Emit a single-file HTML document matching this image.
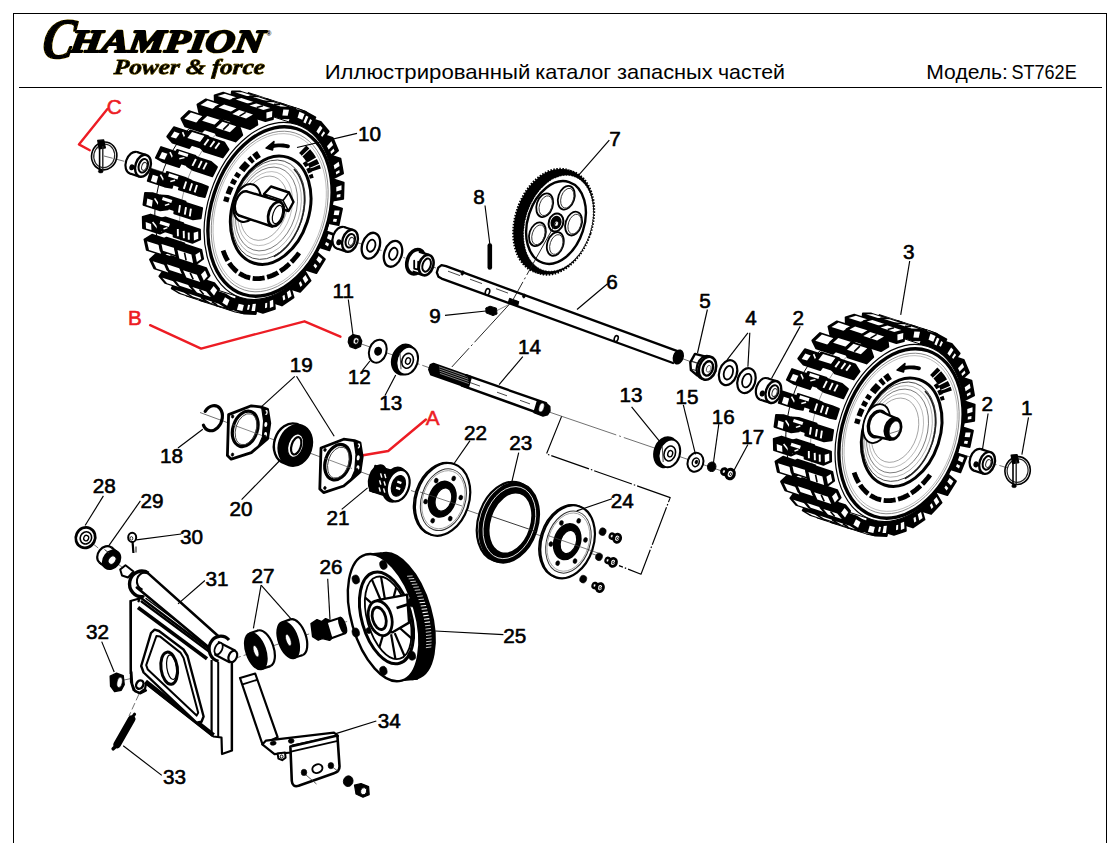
<!DOCTYPE html>
<html lang="ru"><head><meta charset="utf-8"><title>Иллюстрированный каталог запасных частей</title>
<style>
html,body{margin:0;padding:0;background:#fff;}
body{width:1114px;height:843px;overflow:hidden;font-family:"Liberation Sans",sans-serif;}
svg{display:block;}
</style></head><body>
<svg width="1114" height="843" viewBox="0 0 1114 843">
<line x1="104" y1="156" x2="150" y2="168" stroke="#333" stroke-width="0.7" stroke-dasharray="9 3"/>
<line x1="150" y1="168" x2="175" y2="176" stroke="#333" stroke-width="0.7" />
<line x1="332" y1="234.5" x2="436" y2="268" stroke="#333" stroke-width="0.7" stroke-dasharray="12 3 2 3"/>
<line x1="511" y1="302.5" x2="451.8" y2="367" stroke="#111" stroke-width="0.9" stroke-dasharray="54 3 2 3"/>
<line x1="497" y1="310.5" x2="509" y2="304.5" stroke="#555" stroke-width="0.7" />
<line x1="682" y1="358.5" x2="790" y2="398" stroke="#333" stroke-width="0.7" stroke-dasharray="12 3 2 3"/>
<line x1="962" y1="454.5" x2="1008" y2="468" stroke="#333" stroke-width="0.7" stroke-dasharray="10 3"/>
<line x1="360" y1="343.5" x2="430" y2="368" stroke="#333" stroke-width="0.7" stroke-dasharray="14 3 2 3"/>
<line x1="550" y1="412.3" x2="735" y2="475.5" stroke="#333" stroke-width="0.7" stroke-dasharray="70 3 2 3"/>
<path d="M561.6 416.4 L546.5 453.9 L670.2 497.6 L641 574.2 L619 565.6" fill="none" stroke="#000" stroke-width="1.15" stroke-linejoin="round" stroke-linecap="butt" stroke-dasharray="40 2 1.5 2"/>
<line x1="200" y1="412.5" x2="372" y2="476" stroke="#333" stroke-width="0.7" stroke-dasharray="60 3 2 3"/>
<line x1="411" y1="490.5" x2="600" y2="556.5" stroke="#333" stroke-width="0.7" stroke-dasharray="80 3 2 3"/>
<line x1="92" y1="543" x2="128" y2="572" stroke="#333" stroke-width="0.7" stroke-dasharray="8 3"/>
<line x1="124" y1="680" x2="160" y2="672.5" stroke="#333" stroke-width="0.7" stroke-dasharray="9 3"/>
<line x1="139" y1="694" x2="129" y2="716" stroke="#333" stroke-width="0.7" stroke-dasharray="7 3"/>
<line x1="236" y1="658" x2="350" y2="620.5" stroke="#333" stroke-width="0.7" stroke-dasharray="5 3"/>
<rect x="13.5" y="13.5" width="1093" height="900" fill="none" stroke="#000" stroke-width="1"/>
<line x1="19" y1="87.5" x2="1102" y2="87.5" stroke="#000" stroke-width="1"/>
<defs><filter id="halo" x="-5%" y="-20%" width="110%" height="140%"><feMorphology in="SourceAlpha" operator="dilate" radius="0.4" result="d"/><feFlood flood-color="#d9b400" flood-opacity="0.6"/><feComposite in2="d" operator="in" result="h"/><feMerge><feMergeNode in="h"/><feMergeNode in="SourceGraphic"/></feMerge></filter></defs>
<g font-family="'Liberation Serif', serif" font-weight="bold" font-style="italic" fill="#000" stroke="#000" stroke-linejoin="round" filter="url(#halo)">
<text transform="skewX(-8)"><tspan x="49.0" y="57.8" font-size="57" stroke-width="1.5" textLength="32" lengthAdjust="spacingAndGlyphs">C</tspan><tspan x="76.6" y="51.6" font-size="32" stroke-width="2.1" textLength="193.5" lengthAdjust="spacingAndGlyphs">HAMPION</tspan></text>
<text transform="skewX(-4)" x="118.7" y="74.3" font-size="21.5" stroke-width="0.8" textLength="151" lengthAdjust="spacingAndGlyphs">Power &amp; force</text>
</g>
<text x="266.5" y="35.5" font-family="'Liberation Sans', sans-serif" font-size="6.5" font-weight="bold">®</text>
<g font-family="'Liberation Sans', sans-serif" fill="#000" font-size="20.3">
<text><tspan x="324.7" y="79.3" textLength="205.7" lengthAdjust="spacingAndGlyphs">Иллюстрированный</tspan> <tspan x="535.2" y="79.3" textLength="76.0" lengthAdjust="spacingAndGlyphs">каталог</tspan> <tspan x="617.1" y="79.3" textLength="95.6" lengthAdjust="spacingAndGlyphs">запасных</tspan> <tspan x="718.0" y="79.3" textLength="67.0" lengthAdjust="spacingAndGlyphs">частей</tspan></text>
<text><tspan x="926.3" y="79.3" textLength="81.6" lengthAdjust="spacingAndGlyphs">Модель:</tspan> <tspan x="1011.5" y="79.3" textLength="65.2" lengthAdjust="spacingAndGlyphs">ST762E</tspan></text>
</g>
<g>
<path d="M191.1 281.5 L185.2 279 L179.7 275.7 L174.6 271.4 L170 266.3 L165.9 260.5 L162.4 253.9 L159.5 246.6 L157.3 238.8 L155.8 230.6 L155 221.9 L154.8 212.9 L155.4 203.8 L156.7 194.5 L158.6 185.2 L161.3 176.1 L164.5 167.1 L168.4 158.5 L172.8 150.3 L177.7 142.5 L183.1 135.3 L188.9 128.8 L195 123 L201.3 118 L207.9 113.8 L214.6 110.6 L221.3 108.2 L228.1 106.8 L234.7 106.4 L241.2 106.9 L247.4 108.4 L296.8 124.5 L302.7 126.9 L308.3 130.3 L313.4 134.5 L318 139.6 L322 145.5 L325.5 152.1 L328.4 159.3 L330.6 167.1 L332.1 175.4 L333 184 L333.1 193 L332.5 202.2 L331.3 211.4 L329.3 220.7 L326.7 229.8 L323.4 238.8 L319.6 247.4 L315.2 255.7 L310.2 263.4 L304.9 270.6 L299.1 277.1 L293 282.9 L286.6 287.9 L280 292.1 L273.3 295.4 L266.6 297.7 L259.9 299.1 L253.2 299.6 L246.8 299 L240.6 297.5Z" fill="#fff" stroke="#000" stroke-width="1" stroke-linejoin="round" />
<path d="M210.9 287.5 L205.3 284.3 L200.1 280.2 L195.4 275.3 L191.3 269.5 L187.7 263.1 L184.7 255.9 L182.4 248.2 L180.7 240 L179.8 231.4 L179.5 222.5 L180 213.3 L181.1 204.1 L183 194.8 L185.5 185.6 L188.7 176.7 L192.4 168 L196.7 159.6 L201.6 151.8 L206.9 144.5 L212.6 137.9 L218.7 132 L225 126.8 L231.5 122.5 L238.2 119.1 L245 116.6 L251.7 115 L258.3 114.4 L264.8 114.8" fill="none" stroke="#555" stroke-width="0.6" stroke-linejoin="round" stroke-linecap="round" />
<path d="M308.8 240.6 L314 227.4 L324.9 230.9 L335.7 234.7 L329.4 250.4 L318.5 246.9Z" fill="#000" stroke="#000" stroke-width="1.8" stroke-linejoin="round" />
<path d="M328.5 233.9 L333.1 235.7 L331.3 240.4 L326.9 238.3Z" fill="#fff" stroke="none" stroke-width="0" stroke-linejoin="round" />
<path d="M326.1 242 L329.1 243.7 L327.9 246.4 L325 244.6Z" fill="#fff" stroke="none" stroke-width="0" stroke-linejoin="round" />
<path d="M316.5 219.3 L319.4 205.5 L331.2 205.1 L342.1 208.6 L338.6 225.2 L327.4 222.9Z" fill="#000" stroke="#000" stroke-width="1.8" stroke-linejoin="round" />
<path d="M334.5 210.5 L339.6 210.4 L338.7 215.3 L333.7 215Z" fill="#fff" stroke="none" stroke-width="0" stroke-linejoin="round" />
<path d="M333.6 218.7 L337 219.1 L336.3 222 L332.9 221.4Z" fill="#fff" stroke="none" stroke-width="0" stroke-linejoin="round" />
<path d="M297.8 259.7 L305.1 248 L315.9 251.5 L324.9 259.2 L316.3 273.2 L305.4 269.7Z" fill="#000" stroke="#000" stroke-width="1.8" stroke-linejoin="round" />
<path d="M318.6 255.9 L322.4 259.3 L319.9 263.6 L316.3 259.8Z" fill="#fff" stroke="none" stroke-width="0" stroke-linejoin="round" />
<path d="M314.9 263.4 L317.3 266.1 L315.7 268.5 L313.4 265.7Z" fill="#fff" stroke="none" stroke-width="0" stroke-linejoin="round" />
<path d="M320.4 197.3 L320.8 183.7 L332.8 179.2 L343.7 182.7 L343.2 198.9 L331.3 200.9Z" fill="#000" stroke="#000" stroke-width="1.8" stroke-linejoin="round" />
<path d="M336.3 187.1 L341.5 185.2 L341.5 190 L336.3 191.5Z" fill="#fff" stroke="none" stroke-width="0" stroke-linejoin="round" />
<path d="M336.9 194.8 L340.5 194 L340.3 196.9 L336.7 197.6Z" fill="#fff" stroke="none" stroke-width="0" stroke-linejoin="round" />
<path d="M284.2 275.4 L293 266 L303.9 269.5 L310.6 280.7 L300.1 291.9 L289.2 288.4Z" fill="#000" stroke="#000" stroke-width="1.8" stroke-linejoin="round" />
<path d="M305.5 275 L308.3 279.9 L305.2 283.3 L302.6 278.2Z" fill="#fff" stroke="none" stroke-width="0" stroke-linejoin="round" />
<path d="M300.7 281.3 L302.4 285 L300.5 287 L298.9 283.1Z" fill="#fff" stroke="none" stroke-width="0" stroke-linejoin="round" />
<path d="M318.1 163.5 L329.6 155.1 L340.5 158.6 L343.1 173.5 L331.2 179.5 L320.3 176Z" fill="#000" stroke="#000" stroke-width="1.8" stroke-linejoin="round" />
<path d="M333.7 165.2 L338.7 161.7 L339.6 166 L334.6 169.2Z" fill="#fff" stroke="none" stroke-width="0" stroke-linejoin="round" />
<path d="M335.8 172 L339.3 170 L339.7 172.6 L336.2 174.6Z" fill="#fff" stroke="none" stroke-width="0" stroke-linejoin="round" />
<path d="M268.9 286.8 L278.7 280.2 L289.6 283.7 L293.6 297.6 L281.9 305.5 L271 301.9Z" fill="#000" stroke="#000" stroke-width="1.8" stroke-linejoin="round" />
<path d="M290 289.9 L291.6 295.9 L288.2 298.4 L286.8 292.2Z" fill="#fff" stroke="none" stroke-width="0" stroke-linejoin="round" />
<path d="M284.5 294.7 L285.3 299.2 L283.2 300.5 L282.5 296Z" fill="#fff" stroke="none" stroke-width="0" stroke-linejoin="round" />
<path d="M311.5 146.1 L321.8 134.4 L332.7 137.9 L338.1 150.5 L327 160.2 L316.1 156.7Z" fill="#000" stroke="#000" stroke-width="1.8" stroke-linejoin="round" />
<path d="M327 146.3 L331.4 141.3 L333.1 144.9 L328.6 149.6Z" fill="#fff" stroke="none" stroke-width="0" stroke-linejoin="round" />
<path d="M330.4 151.7 L333.6 148.6 L334.5 150.9 L331.2 153.9Z" fill="#fff" stroke="none" stroke-width="0" stroke-linejoin="round" />
<path d="M252 309.3 L252.9 293 L263 289.7 L273.9 293.2 L274.9 308.9 L262.9 312.9Z" fill="#000" stroke="#000" stroke-width="1.8" stroke-linejoin="round" />
<path d="M273.1 299.7 L273.4 306.5 L269.9 307.9 L269.8 301Z" fill="#fff" stroke="none" stroke-width="0" stroke-linejoin="round" />
<path d="M267.2 302.8 L267.1 307.6 L265 308.2 L265.2 303.3Z" fill="#fff" stroke="none" stroke-width="0" stroke-linejoin="round" />
<path d="M301.5 132.7 L309.8 118.4 L320.7 121.9 L328.7 131.4 L319.1 144.1 L308.2 140.6Z" fill="#000" stroke="#000" stroke-width="1.8" stroke-linejoin="round" />
<path d="M316.4 131.6 L320.1 125.5 L322.5 128.1 L318.7 134Z" fill="#fff" stroke="none" stroke-width="0" stroke-linejoin="round" />
<path d="M321 135.3 L323.7 131.3 L325.1 133.1 L322.2 137Z" fill="#fff" stroke="none" stroke-width="0" stroke-linejoin="round" />
<path d="M233.3 310.2 L237.2 293.7 L247 293.9 L257.9 297.4 L255.8 314 L244.2 313.7Z" fill="#000" stroke="#000" stroke-width="1.8" stroke-linejoin="round" />
<path d="M255.9 303.8 L255 310.9 L251.5 311.1 L252.7 304Z" fill="#fff" stroke="none" stroke-width="0" stroke-linejoin="round" />
<path d="M250 304.9 L249 309.8 L247 309.7 L248.1 304.7Z" fill="#fff" stroke="none" stroke-width="0" stroke-linejoin="round" />
<path d="M288.6 124.1 L294.5 108.1 L305.4 111.7 L315.4 117.4 L307.9 132.4 L297 128.9Z" fill="#000" stroke="#000" stroke-width="1.8" stroke-linejoin="round" />
<path d="M302.8 122 L305.4 115.2 L308.4 116.7 L305.6 123.4Z" fill="#fff" stroke="none" stroke-width="0" stroke-linejoin="round" />
<path d="M308.2 123.7 L310.2 119.1 L312 120.2 L309.8 124.8Z" fill="#fff" stroke="none" stroke-width="0" stroke-linejoin="round" />
<path d="M186.6 295.7 L189.8 285.2 L197 286.6 L213.8 292.1 L211.4 302.8 L203.4 301.2Z" fill="#000" stroke="#000" stroke-width="1.8" stroke-linejoin="round" />
<path d="M212.2 294.4 L210.8 300.5 L205.1 299.4 L206.9 293.3Z" fill="#fff" stroke="none" stroke-width="0" stroke-linejoin="round" />
<path d="M196.5 298.1 L208.4 301.9 L201.6 300.6 L189.7 296.7Z" fill="#fff" stroke="none" stroke-width="0" stroke-linejoin="round" />
<path d="M245.3 103.5 L248.5 93 L265.3 98.5 L273 101.3 L269 111.6 L252.2 106.1Z" fill="#000" stroke="#000" stroke-width="1.8" stroke-linejoin="round" />
<path d="M263.8 106.9 L265.7 100.9 L271.2 102.9 L269 108.8Z" fill="#fff" stroke="none" stroke-width="0" stroke-linejoin="round" />
<path d="M251.5 94 L263.4 97.8 L269.8 100.2 L258 96.4Z" fill="#fff" stroke="none" stroke-width="0" stroke-linejoin="round" />
<path d="M262.8 109.2 L266.3 98.8 L284.1 104.6 L290.3 107.2 L286.1 117.4 L268.3 111.6Z" fill="#000" stroke="#000" stroke-width="1.8" stroke-linejoin="round" />
<path d="M282.4 113 L284.4 107 L288.5 108.7 L286.1 114.6Z" fill="#fff" stroke="none" stroke-width="0" stroke-linejoin="round" />
<path d="M269.3 99.8 L282.2 103.9 L287.1 106.1 L274.3 101.9Z" fill="#fff" stroke="none" stroke-width="0" stroke-linejoin="round" />
<path d="M199.8 300.1 L203.2 289.6 L209.1 291.1 L226.9 296.9 L224.2 307.5 L217.7 305.9Z" fill="#000" stroke="#000" stroke-width="1.8" stroke-linejoin="round" />
<path d="M225.2 299.1 L223.6 305.2 L219.4 304.1 L221.3 298.1Z" fill="#fff" stroke="none" stroke-width="0" stroke-linejoin="round" />
<path d="M208.3 302.4 L221.1 306.6 L215.9 305.3 L203 301.1Z" fill="#fff" stroke="none" stroke-width="0" stroke-linejoin="round" />
<path d="M171.7 288.5 L176.5 278.7 L193.3 284.2 L199.7 288 L195.6 298.2 L178.8 292.8Z" fill="#000" stroke="#000" stroke-width="1.8" stroke-linejoin="round" />
<path d="M197.8 289.9 L195.4 295.7 L190.4 292.6 L193 287Z" fill="#fff" stroke="none" stroke-width="0" stroke-linejoin="round" />
<path d="M180.8 293.3 L192.6 297.2 L186.6 293.6 L174.8 289.7Z" fill="#fff" stroke="none" stroke-width="0" stroke-linejoin="round" />
<path d="M230.4 102.1 L231.9 91.4 L240.3 91.5 L257.1 97 L254.8 107.7 L247.3 107.5Z" fill="#000" stroke="#000" stroke-width="1.8" stroke-linejoin="round" />
<path d="M248.7 105.1 L249.6 98.9 L255.5 99 L254.3 105.1Z" fill="#fff" stroke="none" stroke-width="0" stroke-linejoin="round" />
<path d="M235 92.2 L246.8 96 L253.9 96.1 L242 92.2Z" fill="#fff" stroke="none" stroke-width="0" stroke-linejoin="round" />
<path d="M216.4 305.4 L219.7 295 L226.7 296.5 L245.5 302.6 L242.9 313.2 L235.2 311.6Z" fill="#000" stroke="#000" stroke-width="1.8" stroke-linejoin="round" />
<path d="M243.9 304.9 L242.4 311 L236.9 309.8 L238.7 303.7Z" fill="#fff" stroke="none" stroke-width="0" stroke-linejoin="round" />
<path d="M226.1 307.9 L239.9 312.4 L233.4 311 L219.6 306.5Z" fill="#fff" stroke="none" stroke-width="0" stroke-linejoin="round" />
<path d="M232.7 310.1 L226.8 308.8" fill="none" stroke="#000" stroke-width="1.6" stroke-linejoin="round" stroke-linecap="butt" />
<path d="M276.9 113.8 L280.2 103.3 L299 109.4 L306.4 112.3 L302.3 122.5 L283.6 116.4Z" fill="#000" stroke="#000" stroke-width="1.8" stroke-linejoin="round" />
<path d="M297.5 117.8 L299.4 111.8 L304.6 113.9 L302.3 119.8Z" fill="#fff" stroke="none" stroke-width="0" stroke-linejoin="round" />
<path d="M283.2 104.3 L297.1 108.8 L303.3 111.2 L289.4 106.7Z" fill="#fff" stroke="none" stroke-width="0" stroke-linejoin="round" />
<path d="M290.5 106.6 L296 108.8" fill="none" stroke="#000" stroke-width="1.6" stroke-linejoin="round" stroke-linecap="butt" />
<path d="M248.2 106.8 L250 96.1 L256.8 96.5 L274.6 102.3 L272.1 113 L266 112.6Z" fill="#000" stroke="#000" stroke-width="1.8" stroke-linejoin="round" />
<path d="M267.4 110.2 L268.5 104 L273 104.3 L271.6 110.4Z" fill="#fff" stroke="none" stroke-width="0" stroke-linejoin="round" />
<path d="M253 96.9 L265.9 101.1 L271.3 101.4 L258.5 97.2Z" fill="#fff" stroke="none" stroke-width="0" stroke-linejoin="round" />
<path d="M185.2 292.3 L190.1 282.7 L207.9 288.5 L213 291.8 L208.7 301.9 L190.9 296.1Z" fill="#000" stroke="#000" stroke-width="1.8" stroke-linejoin="round" />
<path d="M211.1 293.6 L208.6 299.3 L204.9 296.9 L207.6 291.3Z" fill="#fff" stroke="none" stroke-width="0" stroke-linejoin="round" />
<path d="M192.9 296.6 L205.7 300.8 L201.1 297.8 L188.3 293.6Z" fill="#fff" stroke="none" stroke-width="0" stroke-linejoin="round" />
<path d="M159.3 276.2 L165.3 267.7 L182.2 273.2 L187.4 279.2 L181.9 288.4 L165.1 282.9Z" fill="#000" stroke="#000" stroke-width="1.8" stroke-linejoin="round" />
<path d="M185.4 280.5 L182.2 285.7 L178 280.9 L181.5 276Z" fill="#fff" stroke="none" stroke-width="0" stroke-linejoin="round" />
<path d="M167.1 283.3 L179 287.1 L174.1 281.5 L162.3 277.7Z" fill="#fff" stroke="none" stroke-width="0" stroke-linejoin="round" />
<path d="M214.6 95.3 L223.2 92.7 L240 98.1 L239.5 108.7 L231.7 111 L214.9 105.6Z" fill="#000" stroke="#000" stroke-width="1.8" stroke-linejoin="round" />
<path d="M232.7 108.3 L232.6 102.4 L238.8 100.5 L238.5 106.5Z" fill="#fff" stroke="none" stroke-width="0" stroke-linejoin="round" />
<path d="M217.6 95.9 L229.5 99.7 L236.8 97.5 L224.9 93.7Z" fill="#fff" stroke="none" stroke-width="0" stroke-linejoin="round" />
<path d="M201.6 297.9 L206.5 288.2 L225.3 294.3 L231.4 298.2 L227.2 308.3 L208.4 302.2Z" fill="#000" stroke="#000" stroke-width="1.8" stroke-linejoin="round" />
<path d="M229.5 300 L227.1 305.8 L222.3 302.8 L225 297.2Z" fill="#fff" stroke="none" stroke-width="0" stroke-linejoin="round" />
<path d="M210.4 302.7 L224.3 307.2 L218.6 303.7 L204.7 299.2Z" fill="#fff" stroke="none" stroke-width="0" stroke-linejoin="round" />
<path d="M217.1 304.9 L211.9 301.7" fill="none" stroke="#000" stroke-width="1.6" stroke-linejoin="round" stroke-linecap="butt" />
<path d="M262.1 112 L263.7 101.3 L271.8 101.6 L290.6 107.7 L288.2 118.3 L280.9 118.1Z" fill="#000" stroke="#000" stroke-width="1.8" stroke-linejoin="round" />
<path d="M282.4 115.6 L283.3 109.5 L289 109.7 L287.7 115.8Z" fill="#fff" stroke="none" stroke-width="0" stroke-linejoin="round" />
<path d="M266.8 102.1 L280.6 106.6 L287.4 106.8 L273.6 102.3Z" fill="#fff" stroke="none" stroke-width="0" stroke-linejoin="round" />
<path d="M274 104.3 L280.1 104.5" fill="none" stroke="#000" stroke-width="1.6" stroke-linejoin="round" stroke-linecap="butt" />
<path d="M232.7 109.4 L232.7 99 L239.8 97.1 L257.6 102.9 L256.8 113.5 L250.5 115.2Z" fill="#000" stroke="#000" stroke-width="1.8" stroke-linejoin="round" />
<path d="M251.6 112.4 L251.6 106.5 L256.3 105.3 L255.9 111.3Z" fill="#fff" stroke="none" stroke-width="0" stroke-linejoin="round" />
<path d="M235.8 99.6 L248.6 103.8 L254.3 102.3 L241.4 98.1Z" fill="#fff" stroke="none" stroke-width="0" stroke-linejoin="round" />
<path d="M150 259.5 L157.1 252.8 L173.9 258.2 L177.6 266.1 L171 273.8 L154.2 268.3Z" fill="#000" stroke="#000" stroke-width="1.8" stroke-linejoin="round" />
<path d="M175.5 266.8 L171.7 271.1 L168.7 264.9 L172.7 260.9Z" fill="#fff" stroke="none" stroke-width="0" stroke-linejoin="round" />
<path d="M156.4 268.5 L168.2 272.4 L164.7 265 L152.8 261.2Z" fill="#fff" stroke="none" stroke-width="0" stroke-linejoin="round" />
<path d="M173.1 279.6 L179.2 271.2 L197.1 277 L201.1 282.2 L195.4 291.1 L177.6 285.3Z" fill="#000" stroke="#000" stroke-width="1.8" stroke-linejoin="round" />
<path d="M199.1 283.4 L195.8 288.4 L192.8 284.7 L196.3 279.9Z" fill="#fff" stroke="none" stroke-width="0" stroke-linejoin="round" />
<path d="M179.7 285.7 L192.6 289.9 L188.9 285.2 L176 281.1Z" fill="#fff" stroke="none" stroke-width="0" stroke-linejoin="round" />
<path d="M197.4 104.5 L205.8 99.3 L222.7 104.7 L223.9 114.6 L216.3 119.3 L199.5 113.8Z" fill="#000" stroke="#000" stroke-width="1.8" stroke-linejoin="round" />
<path d="M200.5 104.9 L212.3 108.8 L219.4 104.4 L207.5 100.5Z" fill="#fff" stroke="none" stroke-width="0" stroke-linejoin="round" />
<path d="M144.4 239.4 L152 234.7 L168.8 240.2 L170.9 249.5 L163.5 255.2 L146.7 249.8Z" fill="#000" stroke="#000" stroke-width="1.8" stroke-linejoin="round" />
<path d="M168.9 249.5 L164.6 252.7 L163 245.3 L167.3 242.6Z" fill="#fff" stroke="none" stroke-width="0" stroke-linejoin="round" />
<path d="M149 249.9 L160.9 253.7 L158.9 245 L147 241.2Z" fill="#fff" stroke="none" stroke-width="0" stroke-linejoin="round" />
<path d="M189.4 285.4 L195.5 277 L214.3 283.1 L219.2 289 L213.7 298.1 L194.9 292Z" fill="#000" stroke="#000" stroke-width="1.8" stroke-linejoin="round" />
<path d="M217.2 290.3 L214 295.5 L210.1 290.8 L213.6 285.9Z" fill="#fff" stroke="none" stroke-width="0" stroke-linejoin="round" />
<path d="M197 292.4 L210.8 296.9 L206.2 291.4 L192.3 286.9Z" fill="#fff" stroke="none" stroke-width="0" stroke-linejoin="round" />
<path d="M203.7 294.4 L199.5 289.4" fill="none" stroke="#000" stroke-width="1.6" stroke-linejoin="round" stroke-linecap="butt" />
<path d="M215.4 107.2 L222.4 103.2 L240.2 109 L241.2 119 L235 122.5 L217.2 116.8Z" fill="#000" stroke="#000" stroke-width="1.8" stroke-linejoin="round" />
<path d="M235.7 119.7 L234.7 114.2 L239.2 111.6 L239.9 117.3Z" fill="#fff" stroke="none" stroke-width="0" stroke-linejoin="round" />
<path d="M218.5 107.6 L231.3 111.8 L236.9 108.6 L224.1 104.4Z" fill="#fff" stroke="none" stroke-width="0" stroke-linejoin="round" />
<path d="M246.4 104.8 L254.8 102.4 L273.6 108.5 L272.9 119.1 L265.4 121.2 L246.6 115.2Z" fill="#000" stroke="#000" stroke-width="1.8" stroke-linejoin="round" />
<path d="M266.5 118.5 L266.4 112.6 L272.3 110.9 L272 117Z" fill="#fff" stroke="none" stroke-width="0" stroke-linejoin="round" />
<path d="M249.5 105.4 L263.3 109.9 L270.3 107.9 L256.5 103.4Z" fill="#fff" stroke="none" stroke-width="0" stroke-linejoin="round" />
<path d="M256.7 107.5 L263 105.7" fill="none" stroke="#000" stroke-width="1.6" stroke-linejoin="round" stroke-linecap="butt" />
<path d="M164.1 262.5 L171.2 256 L189.1 261.8 L191.9 268.4 L185.2 275.7 L167.3 269.9Z" fill="#000" stroke="#000" stroke-width="1.8" stroke-linejoin="round" />
<path d="M189.9 268.9 L185.9 273.1 L183.8 268.2 L187.9 264.4Z" fill="#fff" stroke="none" stroke-width="0" stroke-linejoin="round" />
<path d="M169.5 270.1 L182.4 274.3 L179.8 268.4 L166.9 264.2Z" fill="#fff" stroke="none" stroke-width="0" stroke-linejoin="round" />
<path d="M181.3 118.5 L189.1 111 L205.9 116.5 L208.9 125.1 L201.9 131.9 L185.1 126.4Z" fill="#000" stroke="#000" stroke-width="1.8" stroke-linejoin="round" />
<path d="M184.3 118.8 L196.2 122.6 L202.7 116.3 L190.9 112.4Z" fill="#fff" stroke="none" stroke-width="0" stroke-linejoin="round" />
<path d="M142.7 216.8 L150.5 214.5 L167.3 220 L167.6 230.2 L159.9 233.7 L143 228.2Z" fill="#000" stroke="#000" stroke-width="1.8" stroke-linejoin="round" />
<path d="M165.8 229.6 L161.3 231.5 L161.1 223.4 L165.5 221.9Z" fill="#fff" stroke="none" stroke-width="0" stroke-linejoin="round" />
<path d="M146 228.4 L151.4 230.1 L151.1 223.9 L145.7 222.1Z" fill="#fff" stroke="none" stroke-width="0" stroke-linejoin="round" />
<path d="M152.6 222.1 L157.6 228.3" fill="none" stroke="#fff" stroke-width="1.6" stroke-linejoin="round" stroke-linecap="butt" />
<path d="M167.2 136.6 L173.9 127.2 L190.7 132.7 L195.3 139.6 L189.3 148.1 L172.5 142.6Z" fill="#000" stroke="#000" stroke-width="1.8" stroke-linejoin="round" />
<path d="M170.7 136.9 L176.1 138.6 L179.7 133.4 L174.3 131.6Z" fill="#fff" stroke="none" stroke-width="0" stroke-linejoin="round" />
<path d="M182.6 132.1 L184.8 137.3" fill="none" stroke="#fff" stroke-width="1.6" stroke-linejoin="round" stroke-linecap="butt" />
<path d="M199.1 120.4 L205.5 114.5 L223.3 120.2 L226.2 129.1 L220.3 134.3 L202.6 128.6Z" fill="#000" stroke="#000" stroke-width="1.8" stroke-linejoin="round" />
<path d="M202.1 120.7 L214.9 124.8 L220.1 120.1 L207.3 115.9Z" fill="#fff" stroke="none" stroke-width="0" stroke-linejoin="round" />
<path d="M158.9 242.1 L166.5 237.6 L184.3 243.4 L185.8 251.2 L178.4 256.5 L160.6 250.7Z" fill="#000" stroke="#000" stroke-width="1.8" stroke-linejoin="round" />
<path d="M183.8 251.1 L179.5 254.1 L178.5 248.4 L182.8 245.8Z" fill="#fff" stroke="none" stroke-width="0" stroke-linejoin="round" />
<path d="M162.9 250.8 L175.7 255 L174.4 248 L161.5 243.9Z" fill="#fff" stroke="none" stroke-width="0" stroke-linejoin="round" />
<path d="M180.3 268.5 L187.4 261.9 L206.2 268 L209.7 275.7 L203 283.2 L184.2 277.1Z" fill="#000" stroke="#000" stroke-width="1.8" stroke-linejoin="round" />
<path d="M207.6 276.3 L203.8 280.6 L201 274.5 L205 270.6Z" fill="#fff" stroke="none" stroke-width="0" stroke-linejoin="round" />
<path d="M186.4 277.4 L200.2 281.9 L196.9 274.7 L183.1 270.2Z" fill="#fff" stroke="none" stroke-width="0" stroke-linejoin="round" />
<path d="M193.2 279.3 L190.2 272.8" fill="none" stroke="#000" stroke-width="1.6" stroke-linejoin="round" stroke-linecap="butt" />
<path d="M143.4 204.9 L145 193 L152.6 193.2 L169.4 198.7 L167.9 209.3 L160.2 210.4Z" fill="#000" stroke="#000" stroke-width="1.8" stroke-linejoin="round" />
<path d="M146.4 205 L151.9 206.7 L152.7 200.3 L147.3 198.5Z" fill="#fff" stroke="none" stroke-width="0" stroke-linejoin="round" />
<path d="M154.6 198.4 L158.8 204.7" fill="none" stroke="#fff" stroke-width="1.6" stroke-linejoin="round" stroke-linecap="butt" />
<path d="M229.2 113.7 L237.4 108.8 L256.2 114.9 L257.4 124.8 L250 129.2 L231.2 123.1Z" fill="#000" stroke="#000" stroke-width="1.8" stroke-linejoin="round" />
<path d="M232.3 114.1 L246.1 118.6 L253 114.5 L239.1 110Z" fill="#fff" stroke="none" stroke-width="0" stroke-linejoin="round" />
<path d="M239.5 116.1 L245.7 112.4" fill="none" stroke="#000" stroke-width="1.6" stroke-linejoin="round" stroke-linecap="butt" />
<path d="M155.8 157.8 L161.1 147 L177.9 152.5 L183.8 157.4 L179.1 167.1 L162.2 161.6Z" fill="#000" stroke="#000" stroke-width="1.8" stroke-linejoin="round" />
<path d="M159.1 158 L164.6 159.7 L167.4 153.8 L162 152Z" fill="#fff" stroke="none" stroke-width="0" stroke-linejoin="round" />
<path d="M170 152.1 L172.8 158" fill="none" stroke="#fff" stroke-width="1.6" stroke-linejoin="round" stroke-linecap="butt" />
<path d="M147.7 181 L151.3 169.3 L168.1 174.8 L175 177.4 L171.8 187.9 L164.5 186.5Z" fill="#000" stroke="#000" stroke-width="1.8" stroke-linejoin="round" />
<path d="M150.9 181.1 L156.4 182.9 L158.2 176.5 L152.8 174.7Z" fill="#fff" stroke="none" stroke-width="0" stroke-linejoin="round" />
<path d="M160.5 174.7 L164 180.9" fill="none" stroke="#fff" stroke-width="1.6" stroke-linejoin="round" stroke-linecap="butt" />
<path d="M184.5 137.8 L190.2 130.3 L208 136 L212.4 143.2 L207.3 149.9 L189.5 144.2Z" fill="#000" stroke="#000" stroke-width="1.8" stroke-linejoin="round" />
<path d="M187.4 137.9 L200.3 142.1 L204.8 136 L192 131.9Z" fill="#fff" stroke="none" stroke-width="0" stroke-linejoin="round" />
<path d="M157.6 219.3 L165.4 217.3 L183.2 223 L183.2 231.5 L175.4 234.6 L157.6 228.8Z" fill="#000" stroke="#000" stroke-width="1.8" stroke-linejoin="round" />
<path d="M160 222.3 L169.4 225.3" fill="none" stroke="#fff" stroke-width="3.4" stroke-linejoin="round" stroke-linecap="butt" />
<path d="M163.5 229 L167.4 227.7" fill="none" stroke="#fff" stroke-width="1.4" stroke-linejoin="round" stroke-linecap="butt" />
<path d="M174.9 248.2 L182.5 243.7 L201.3 249.8 L203.2 258.9 L195.8 264.4 L177 258.4Z" fill="#000" stroke="#000" stroke-width="1.8" stroke-linejoin="round" />
<path d="M201.2 258.9 L196.9 262 L195.4 254.8 L199.8 252.1Z" fill="#fff" stroke="none" stroke-width="0" stroke-linejoin="round" />
<path d="M179.3 258.5 L193.1 263 L191.4 254.5 L177.5 250Z" fill="#fff" stroke="none" stroke-width="0" stroke-linejoin="round" />
<path d="M186.1 260.3 L184.5 252.7" fill="none" stroke="#000" stroke-width="1.6" stroke-linejoin="round" stroke-linecap="butt" />
<path d="M213 127.4 L220.6 120.2 L239.4 126.3 L242.3 135.1 L235.5 141.5 L216.7 135.4Z" fill="#000" stroke="#000" stroke-width="1.8" stroke-linejoin="round" />
<path d="M216 127.7 L229.9 132.2 L236.2 126.2 L222.4 121.7Z" fill="#fff" stroke="none" stroke-width="0" stroke-linejoin="round" />
<path d="M223.2 129.6 L228.9 124.2" fill="none" stroke="#000" stroke-width="1.6" stroke-linejoin="round" stroke-linecap="butt" />
<path d="M172.5 158.5 L177.1 149.8 L194.8 155.5 L200.6 160.7 L196.6 168.5 L178.8 162.7Z" fill="#000" stroke="#000" stroke-width="1.8" stroke-linejoin="round" />
<path d="M178.5 152.5 L187.9 155.5" fill="none" stroke="#fff" stroke-width="3.4" stroke-linejoin="round" stroke-linecap="butt" />
<path d="M179.3 158.8 L184.5 157.6" fill="none" stroke="#fff" stroke-width="1.4" stroke-linejoin="round" stroke-linecap="butt" />
<path d="M158.7 205.2 L160.3 195.5 L167.8 195.9 L185.6 201.7 L184.2 210.4 L176.5 211Z" fill="#000" stroke="#000" stroke-width="1.8" stroke-linejoin="round" />
<path d="M162.4 198.5 L171.8 201.5" fill="none" stroke="#fff" stroke-width="3.4" stroke-linejoin="round" stroke-linecap="butt" />
<path d="M164.9 205.4 L169.3 204" fill="none" stroke="#fff" stroke-width="1.4" stroke-linejoin="round" stroke-linecap="butt" />
<path d="M163.8 181.4 L166.9 171.9 L184.7 177.7 L191.5 180.5 L188.7 189 L181.6 187.2Z" fill="#000" stroke="#000" stroke-width="1.8" stroke-linejoin="round" />
<path d="M168.6 174.8 L178 177.8" fill="none" stroke="#fff" stroke-width="3.4" stroke-linejoin="round" stroke-linecap="butt" />
<path d="M170.3 181.5 L175.1 180.2" fill="none" stroke="#fff" stroke-width="1.4" stroke-linejoin="round" stroke-linecap="butt" />
<path d="M173.4 225.5 L181.2 223.3 L200 229.5 L200.2 239.4 L192.4 242.8 L173.6 236.7Z" fill="#000" stroke="#000" stroke-width="1.8" stroke-linejoin="round" />
<path d="M198.3 238.8 L193.9 240.6 L193.7 232.8 L198.2 231.4Z" fill="#fff" stroke="none" stroke-width="0" stroke-linejoin="round" />
<path d="M177.9 236.2 L177.8 228.9" fill="none" stroke="#fff" stroke-width="1.9" stroke-linejoin="round" stroke-linecap="butt" />
<path d="M183.9 238.2 L183.7 230.9" fill="none" stroke="#fff" stroke-width="1.9" stroke-linejoin="round" stroke-linecap="butt" />
<path d="M188.8 239.8 L188.7 232.5" fill="none" stroke="#fff" stroke-width="1.9" stroke-linejoin="round" stroke-linecap="butt" />
<path d="M198.8 145.3 L205.3 136.2 L224.1 142.3 L228.6 149.4 L222.7 157.5 L203.9 151.4Z" fill="#000" stroke="#000" stroke-width="1.8" stroke-linejoin="round" />
<path d="M204.3 145.1 L208.6 139.2" fill="none" stroke="#fff" stroke-width="1.9" stroke-linejoin="round" stroke-linecap="butt" />
<path d="M210.2 147 L214.5 141.1" fill="none" stroke="#fff" stroke-width="1.9" stroke-linejoin="round" stroke-linecap="butt" />
<path d="M215.2 148.6 L219.5 142.7" fill="none" stroke="#fff" stroke-width="1.9" stroke-linejoin="round" stroke-linecap="butt" />
<path d="M174.2 213.3 L175.9 201.7 L183.5 202 L202.2 208.1 L200.7 218.4 L193 219.4Z" fill="#000" stroke="#000" stroke-width="1.8" stroke-linejoin="round" />
<path d="M178.9 212.7 L180 205.2" fill="none" stroke="#fff" stroke-width="1.9" stroke-linejoin="round" stroke-linecap="butt" />
<path d="M184.8 214.7 L186 207.1" fill="none" stroke="#fff" stroke-width="1.9" stroke-linejoin="round" stroke-linecap="butt" />
<path d="M189.8 216.3 L190.9 208.7" fill="none" stroke="#fff" stroke-width="1.9" stroke-linejoin="round" stroke-linecap="butt" />
<path d="M187.1 166.3 L192.3 155.8 L211.1 161.9 L217 167 L212.3 176.4 L193.5 170.2Z" fill="#000" stroke="#000" stroke-width="1.8" stroke-linejoin="round" />
<path d="M192.4 165.9 L195.9 159" fill="none" stroke="#fff" stroke-width="1.9" stroke-linejoin="round" stroke-linecap="butt" />
<path d="M198.4 167.8 L201.8 161" fill="none" stroke="#fff" stroke-width="1.9" stroke-linejoin="round" stroke-linecap="butt" />
<path d="M203.3 169.4 L206.7 162.6" fill="none" stroke="#fff" stroke-width="1.9" stroke-linejoin="round" stroke-linecap="butt" />
<path d="M178.8 189.4 L182.4 178.1 L201.2 184.2 L208 186.9 L204.8 197 L197.6 195.5Z" fill="#000" stroke="#000" stroke-width="1.8" stroke-linejoin="round" />
<path d="M183.8 188.9 L186.2 181.5" fill="none" stroke="#fff" stroke-width="1.9" stroke-linejoin="round" stroke-linecap="butt" />
<path d="M189.7 190.8 L192.1 183.4" fill="none" stroke="#fff" stroke-width="1.9" stroke-linejoin="round" stroke-linecap="butt" />
<path d="M194.7 192.4 L197 185" fill="none" stroke="#fff" stroke-width="1.9" stroke-linejoin="round" stroke-linecap="butt" />
<ellipse cx="268.7" cy="211" rx="61" ry="91" fill="#fff" stroke="#000" stroke-width="1.2" transform="rotate(18 268.7 211)" />
<ellipse cx="270" cy="211.5" rx="58.7" ry="87" fill="#fff" stroke="#000" stroke-width="3.4" transform="rotate(18 270 211.5)" />
<ellipse cx="269.7" cy="211.5" rx="55.3" ry="82.5" fill="none" stroke="#666" stroke-width="0.7" transform="rotate(18 269.7 211.5)" />
<ellipse cx="269.7" cy="211.5" rx="53.6" ry="80" fill="none" stroke="#999" stroke-width="0.6" transform="rotate(18 269.7 211.5)" />
<path d="M299.1 252.9 L297 255.7 L294.8 258.3 L292.6 260.8 L290.3 263.1 L287.9 265.3 L285.5 267.4 L283 269.3 L280.5 271 L278 272.6 L275.4 274 L272.8 275.2 L270.2 276.2 L267.6 277.1 L265 277.8 L262.4 278.2 L259.9 278.5 L257.3 278.6 L254.8 278.6 L252.3 278.3 L249.9 277.8 L247.5 277.2 L245.2 276.4 L243 275.4 L240.8 274.2 L238.7 272.8 L236.7 271.3 L234.7 269.6 L232.9 267.7 L231.2 265.7 L229.5 263.5 L228 261.1 L226.6 258.7 L225.3 256.1 L224.1 253.3 L223.1 250.5" fill="none" stroke="#000" stroke-width="4.8" stroke-linejoin="round" stroke-linecap="butt" stroke-dasharray="12 2.5"/>
<path d="M270.3 146.7 L272.9 146 L275.5 145.6 L278.1 145.4 L280.6 145.3 L283.1 145.5 L285.6 145.8 L288 146.4" fill="none" stroke="#000" stroke-width="3.8" stroke-linejoin="round" stroke-linecap="round" />
<path d="M273.9 141.6 L266.1 148.1 L272.5 149.9Z" fill="#000" stroke="#000" stroke-width="1.6" stroke-linejoin="round" />
<path d="M302.7 149.3 L304.8 151.3 L306.8 153.4 L308.7 155.8 L310.4 158.3 L312 161 L313.5 163.9 L314.8 166.9 L315.9 170.1" fill="none" stroke="#000" stroke-width="10.5" stroke-linejoin="round" stroke-linecap="butt" stroke-dasharray="4 1 9 1.5 5 1"/>
<path d="M304.4 162.1 L305.9 164.4 L307.4 166.9 L308.7 169.5 L309.8 172.3 L310.9 175.2 L311.8 178.2" fill="none" stroke="#000" stroke-width="4.0" stroke-linejoin="round" stroke-linecap="butt" stroke-dasharray="5 2"/>
<path d="M241.6 170.1 L243.5 167.6 L245.6 165.3 L247.7 163 L249.9 161 L252.1 159 L254.4 157.2 L256.7 155.5 L259 154" fill="none" stroke="#000" stroke-width="7.0" stroke-linejoin="round" stroke-linecap="butt" stroke-dasharray="9 3 4 2 6 3"/>
<path d="M225.7 201.8 L226.7 198.4 L227.8 195 L229 191.7 L230.4 188.4 L231.9 185.2 L233.4 182.1 L235.1 179.1 L236.9 176.1 L238.8 173.3" fill="none" stroke="#000" stroke-width="5.4" stroke-linejoin="round" stroke-linecap="butt" stroke-dasharray="5 3 8 3"/>
<ellipse cx="270.7" cy="210.2" rx="38.3" ry="55.5" fill="#fff" stroke="#000" stroke-width="3" transform="rotate(18 270.7 210.2)" />
<ellipse cx="268.5" cy="209.7" rx="34.9" ry="51" fill="none" stroke="#333" stroke-width="0.8" transform="rotate(18 268.5 209.7)" />
<ellipse cx="267.5" cy="209.4" rx="32.2" ry="47" fill="none" stroke="#888" stroke-width="0.6" transform="rotate(18 267.5 209.4)" />
<ellipse cx="266.5" cy="209" rx="29.5" ry="43" fill="none" stroke="#555" stroke-width="0.7" transform="rotate(18 266.5 209)" />
<ellipse cx="265.2" cy="208.6" rx="26" ry="38" fill="none" stroke="#999" stroke-width="0.6" transform="rotate(18 265.2 208.6)" />
<ellipse cx="264" cy="208.2" rx="22.6" ry="33" fill="none" stroke="#777" stroke-width="0.6" transform="rotate(18 264 208.2)" />
<path d="M294.4 169.4 L296.4 171.9 L298.3 174.6 L299.9 177.7 L301.3 180.9 L302.5 184.4 L303.4 188.1 L304 192 L304.4 196 L304.5 200.2 L304.3 204.4 L303.8 208.7 L303.1 213 L302.1 217.2 L300.9 221.5 L299.4 225.6 L297.7 229.6 L295.7 233.5 L293.6 237.3 L291.3 240.8 L288.8 244.1 L286.1 247.1 L283.3 249.9 L280.4 252.4 L277.4 254.5 L274.4 256.3" fill="none" stroke="#222" stroke-width="1.6" stroke-linejoin="round" stroke-linecap="round" />
<ellipse cx="247" cy="203" rx="13" ry="19.5" fill="#fff" stroke="#000" stroke-width="2.2" transform="rotate(18 247 203)" />
<path d="M264 194 L271 186.5 L289 192.5 L293.5 202 L288.5 211 L276 207.5Z" fill="#fff" stroke="#000" stroke-width="2.4" stroke-linejoin="round" />
<path d="M264 194 L283 200.5 L289 192.5" fill="none" stroke="#000" stroke-width="1.6" stroke-linejoin="round" stroke-linecap="round" />
<path d="M283 200.5 L288.5 211" fill="none" stroke="#000" stroke-width="1.6" stroke-linejoin="round" stroke-linecap="round" />
<path d="M246 191.5 L280 201 L272 226.5 L239 215.5Z" fill="#fff" stroke="none" stroke-width="0" stroke-linejoin="round" />
<ellipse cx="243" cy="203.5" rx="7.6" ry="12.6" fill="#fff" stroke="#000" stroke-width="2.4" transform="rotate(18 243 203.5)" />
<path d="M246.5 191.5 L280 201.5 L272 226 L239 215.5Z" fill="#fff" stroke="none" stroke-width="0" stroke-linejoin="round" />
<path d="M246.5 191.3 L280.5 201.5" fill="none" stroke="#000" stroke-width="2.4" stroke-linejoin="round" stroke-linecap="round" />
<path d="M239 215.5 L272 226.5" fill="none" stroke="#000" stroke-width="2.4" stroke-linejoin="round" stroke-linecap="round" />
<ellipse cx="276" cy="214" rx="7.3" ry="12.6" fill="#fff" stroke="#000" stroke-width="2.8" transform="rotate(18 276 214)" />
<ellipse cx="277.5" cy="214.5" rx="4.5" ry="9.5" fill="#fff" stroke="#000" stroke-width="1.2" transform="rotate(18 277.5 214.5)" />
</g>
<g>
<path d="M822.1 503.5 L816.2 501 L810.7 497.7 L805.6 493.4 L801 488.3 L796.9 482.5 L793.4 475.9 L790.5 468.6 L788.3 460.8 L786.8 452.6 L786 443.9 L785.8 434.9 L786.4 425.8 L787.7 416.5 L789.6 407.2 L792.3 398.1 L795.5 389.1 L799.4 380.5 L803.8 372.3 L808.7 364.5 L814.1 357.3 L819.9 350.8 L826 345 L832.3 340 L838.9 335.8 L845.6 332.6 L852.3 330.2 L859.1 328.8 L865.7 328.4 L872.2 328.9 L878.4 330.4 L927.8 346.5 L933.7 348.9 L939.3 352.3 L944.4 356.5 L949 361.6 L953 367.5 L956.5 374.1 L959.4 381.3 L961.6 389.1 L963.1 397.4 L964 406 L964.1 415 L963.5 424.2 L962.3 433.4 L960.3 442.7 L957.7 451.8 L954.4 460.8 L950.6 469.4 L946.2 477.7 L941.2 485.4 L935.9 492.6 L930.1 499.1 L924 504.9 L917.6 509.9 L911 514.1 L904.3 517.4 L897.6 519.7 L890.9 521.1 L884.2 521.6 L877.8 521 L871.6 519.5Z" fill="#fff" stroke="#000" stroke-width="1" stroke-linejoin="round" />
<path d="M841.9 509.5 L836.3 506.3 L831.1 502.2 L826.4 497.3 L822.3 491.5 L818.7 485.1 L815.7 477.9 L813.4 470.2 L811.7 462 L810.8 453.4 L810.5 444.5 L811 435.3 L812.1 426.1 L814 416.8 L816.5 407.6 L819.7 398.7 L823.4 390 L827.7 381.6 L832.6 373.8 L837.9 366.5 L843.6 359.9 L849.7 354 L856 348.8 L862.5 344.5 L869.2 341.1 L876 338.6 L882.7 337 L889.3 336.4 L895.8 336.8" fill="none" stroke="#555" stroke-width="0.6" stroke-linejoin="round" stroke-linecap="round" />
<path d="M939.8 462.6 L945 449.4 L955.9 452.9 L966.7 456.7 L960.4 472.4 L949.5 468.9Z" fill="#000" stroke="#000" stroke-width="1.8" stroke-linejoin="round" />
<path d="M959.5 455.9 L964.1 457.7 L962.3 462.4 L957.9 460.3Z" fill="#fff" stroke="none" stroke-width="0" stroke-linejoin="round" />
<path d="M957.1 464 L960.1 465.7 L958.9 468.4 L956 466.6Z" fill="#fff" stroke="none" stroke-width="0" stroke-linejoin="round" />
<path d="M947.5 441.3 L950.4 427.5 L962.2 427.1 L973 430.6 L969.6 447.1 L958.4 444.9Z" fill="#000" stroke="#000" stroke-width="1.8" stroke-linejoin="round" />
<path d="M965.5 432.5 L970.6 432.4 L969.7 437.3 L964.7 437Z" fill="#fff" stroke="none" stroke-width="0" stroke-linejoin="round" />
<path d="M964.6 440.7 L968 441.1 L967.3 444 L963.9 443.4Z" fill="#fff" stroke="none" stroke-width="0" stroke-linejoin="round" />
<path d="M928.8 481.7 L936 470 L946.9 473.5 L956 481.2 L947.3 495.2 L936.4 491.7Z" fill="#000" stroke="#000" stroke-width="1.8" stroke-linejoin="round" />
<path d="M949.6 477.9 L953.4 481.3 L950.9 485.6 L947.3 481.8Z" fill="#fff" stroke="none" stroke-width="0" stroke-linejoin="round" />
<path d="M945.9 485.4 L948.3 488.1 L946.7 490.5 L944.4 487.7Z" fill="#fff" stroke="none" stroke-width="0" stroke-linejoin="round" />
<path d="M951.4 419.3 L951.8 405.7 L963.8 401.2 L974.7 404.7 L974.2 420.9 L962.3 422.9Z" fill="#000" stroke="#000" stroke-width="1.8" stroke-linejoin="round" />
<path d="M967.3 409.1 L972.5 407.2 L972.5 412 L967.3 413.5Z" fill="#fff" stroke="none" stroke-width="0" stroke-linejoin="round" />
<path d="M967.9 416.8 L971.5 416 L971.3 418.9 L967.7 419.6Z" fill="#fff" stroke="none" stroke-width="0" stroke-linejoin="round" />
<path d="M915.2 497.4 L924 488 L934.9 491.5 L941.6 502.7 L931.1 514 L920.2 510.4Z" fill="#000" stroke="#000" stroke-width="1.8" stroke-linejoin="round" />
<path d="M936.5 497 L939.3 501.9 L936.2 505.3 L933.6 500.2Z" fill="#fff" stroke="none" stroke-width="0" stroke-linejoin="round" />
<path d="M931.7 503.3 L933.4 507 L931.5 509 L929.9 505.1Z" fill="#fff" stroke="none" stroke-width="0" stroke-linejoin="round" />
<path d="M949.1 385.5 L960.6 377.1 L971.5 380.6 L974.1 395.5 L962.2 401.5 L951.3 398Z" fill="#000" stroke="#000" stroke-width="1.8" stroke-linejoin="round" />
<path d="M964.7 387.2 L969.7 383.7 L970.6 388 L965.6 391.2Z" fill="#fff" stroke="none" stroke-width="0" stroke-linejoin="round" />
<path d="M966.8 394 L970.3 392 L970.7 394.6 L967.2 396.6Z" fill="#fff" stroke="none" stroke-width="0" stroke-linejoin="round" />
<path d="M899.9 508.8 L909.7 502.2 L920.6 505.7 L924.5 519.6 L912.9 527.5 L902 523.9Z" fill="#000" stroke="#000" stroke-width="1.8" stroke-linejoin="round" />
<path d="M921 511.9 L922.6 517.9 L919.2 520.4 L917.8 514.2Z" fill="#fff" stroke="none" stroke-width="0" stroke-linejoin="round" />
<path d="M915.5 516.7 L916.3 521.2 L914.2 522.5 L913.5 518Z" fill="#fff" stroke="none" stroke-width="0" stroke-linejoin="round" />
<path d="M942.5 368.1 L952.8 356.4 L963.7 359.9 L969.1 372.5 L958 382.2 L947.1 378.6Z" fill="#000" stroke="#000" stroke-width="1.8" stroke-linejoin="round" />
<path d="M958 368.3 L962.4 363.3 L964.1 366.9 L959.6 371.6Z" fill="#fff" stroke="none" stroke-width="0" stroke-linejoin="round" />
<path d="M961.4 373.7 L964.6 370.6 L965.5 372.9 L962.2 375.9Z" fill="#fff" stroke="none" stroke-width="0" stroke-linejoin="round" />
<path d="M883 531.3 L883.9 515 L894 511.7 L904.9 515.2 L905.9 530.9 L893.9 534.9Z" fill="#000" stroke="#000" stroke-width="1.8" stroke-linejoin="round" />
<path d="M904.1 521.7 L904.4 528.5 L900.9 529.9 L900.8 523Z" fill="#fff" stroke="none" stroke-width="0" stroke-linejoin="round" />
<path d="M898.2 524.8 L898.1 529.6 L896 530.2 L896.2 525.3Z" fill="#fff" stroke="none" stroke-width="0" stroke-linejoin="round" />
<path d="M932.5 354.7 L940.8 340.4 L951.7 343.9 L959.7 353.4 L950.1 366.1 L939.2 362.6Z" fill="#000" stroke="#000" stroke-width="1.8" stroke-linejoin="round" />
<path d="M947.4 353.6 L951.1 347.5 L953.5 350.1 L949.7 356Z" fill="#fff" stroke="none" stroke-width="0" stroke-linejoin="round" />
<path d="M952 357.3 L954.7 353.3 L956.1 355.1 L953.2 359Z" fill="#fff" stroke="none" stroke-width="0" stroke-linejoin="round" />
<path d="M864.3 532.2 L868.2 515.7 L878 515.9 L888.9 519.4 L886.8 536 L875.2 535.7Z" fill="#000" stroke="#000" stroke-width="1.8" stroke-linejoin="round" />
<path d="M886.9 525.8 L886 532.9 L882.5 533.1 L883.7 526Z" fill="#fff" stroke="none" stroke-width="0" stroke-linejoin="round" />
<path d="M881 526.9 L880 531.8 L878 531.7 L879.1 526.7Z" fill="#fff" stroke="none" stroke-width="0" stroke-linejoin="round" />
<path d="M919.6 346.1 L925.5 330.1 L936.4 333.7 L946.4 339.4 L938.9 354.4 L928 350.9Z" fill="#000" stroke="#000" stroke-width="1.8" stroke-linejoin="round" />
<path d="M933.8 344 L936.4 337.2 L939.4 338.7 L936.6 345.4Z" fill="#fff" stroke="none" stroke-width="0" stroke-linejoin="round" />
<path d="M939.2 345.7 L941.2 341.1 L943 342.2 L940.8 346.8Z" fill="#fff" stroke="none" stroke-width="0" stroke-linejoin="round" />
<path d="M817.5 517.7 L820.8 507.2 L828 508.6 L844.8 514.1 L842.4 524.8 L834.4 523.2Z" fill="#000" stroke="#000" stroke-width="1.8" stroke-linejoin="round" />
<path d="M843.2 516.4 L841.8 522.5 L836.1 521.4 L837.9 515.3Z" fill="#fff" stroke="none" stroke-width="0" stroke-linejoin="round" />
<path d="M827.5 520.1 L839.4 523.9 L832.6 522.6 L820.7 518.7Z" fill="#fff" stroke="none" stroke-width="0" stroke-linejoin="round" />
<path d="M876.3 325.6 L879.5 315 L896.3 320.5 L904 323.3 L900 333.6 L883.2 328.1Z" fill="#000" stroke="#000" stroke-width="1.8" stroke-linejoin="round" />
<path d="M894.8 328.9 L896.7 322.9 L902.2 324.9 L900 330.8Z" fill="#fff" stroke="none" stroke-width="0" stroke-linejoin="round" />
<path d="M882.5 316 L894.4 319.8 L900.8 322.2 L889 318.4Z" fill="#fff" stroke="none" stroke-width="0" stroke-linejoin="round" />
<path d="M893.8 331.2 L897.3 320.8 L915.1 326.6 L921.3 329.2 L917.1 339.4 L899.3 333.6Z" fill="#000" stroke="#000" stroke-width="1.8" stroke-linejoin="round" />
<path d="M913.4 335 L915.4 329 L919.5 330.7 L917.1 336.6Z" fill="#fff" stroke="none" stroke-width="0" stroke-linejoin="round" />
<path d="M900.3 321.8 L913.2 325.9 L918.1 328.1 L905.3 323.9Z" fill="#fff" stroke="none" stroke-width="0" stroke-linejoin="round" />
<path d="M830.8 522.1 L834.2 511.6 L840.1 513.1 L857.9 518.9 L855.1 529.5 L848.6 527.9Z" fill="#000" stroke="#000" stroke-width="1.8" stroke-linejoin="round" />
<path d="M856.2 521.1 L854.6 527.2 L850.4 526.1 L852.3 520.1Z" fill="#fff" stroke="none" stroke-width="0" stroke-linejoin="round" />
<path d="M839.3 524.4 L852.1 528.6 L846.9 527.3 L834 523.1Z" fill="#fff" stroke="none" stroke-width="0" stroke-linejoin="round" />
<path d="M802.7 510.5 L807.5 500.7 L824.3 506.2 L830.6 510 L826.6 520.2 L809.8 514.8Z" fill="#000" stroke="#000" stroke-width="1.8" stroke-linejoin="round" />
<path d="M828.8 511.9 L826.4 517.7 L821.4 514.6 L824 509Z" fill="#fff" stroke="none" stroke-width="0" stroke-linejoin="round" />
<path d="M811.8 515.3 L823.6 519.2 L817.6 515.6 L805.8 511.7Z" fill="#fff" stroke="none" stroke-width="0" stroke-linejoin="round" />
<path d="M861.5 324.1 L862.9 313.4 L871.3 313.5 L888.1 319 L885.8 329.7 L878.3 329.6Z" fill="#000" stroke="#000" stroke-width="1.8" stroke-linejoin="round" />
<path d="M879.7 327.1 L880.6 320.9 L886.5 321 L885.3 327.1Z" fill="#fff" stroke="none" stroke-width="0" stroke-linejoin="round" />
<path d="M866 314.2 L877.8 318 L884.9 318.1 L873 314.2Z" fill="#fff" stroke="none" stroke-width="0" stroke-linejoin="round" />
<path d="M847.4 527.5 L850.7 517 L857.7 518.5 L876.5 524.6 L873.9 535.2 L866.2 533.5Z" fill="#000" stroke="#000" stroke-width="1.8" stroke-linejoin="round" />
<path d="M874.9 526.9 L873.4 533 L867.9 531.8 L869.7 525.7Z" fill="#fff" stroke="none" stroke-width="0" stroke-linejoin="round" />
<path d="M857.1 529.9 L870.9 534.4 L864.4 533 L850.6 528.5Z" fill="#fff" stroke="none" stroke-width="0" stroke-linejoin="round" />
<path d="M863.7 532.1 L857.8 530.8" fill="none" stroke="#000" stroke-width="1.6" stroke-linejoin="round" stroke-linecap="butt" />
<path d="M907.9 335.8 L911.2 325.3 L930 331.4 L937.4 334.3 L933.3 344.5 L914.5 338.4Z" fill="#000" stroke="#000" stroke-width="1.8" stroke-linejoin="round" />
<path d="M928.5 339.8 L930.4 333.8 L935.6 335.9 L933.3 341.8Z" fill="#fff" stroke="none" stroke-width="0" stroke-linejoin="round" />
<path d="M914.2 326.3 L928.1 330.8 L934.3 333.2 L920.4 328.7Z" fill="#fff" stroke="none" stroke-width="0" stroke-linejoin="round" />
<path d="M921.5 328.6 L927 330.8" fill="none" stroke="#000" stroke-width="1.6" stroke-linejoin="round" stroke-linecap="butt" />
<path d="M879.2 328.8 L881 318.1 L887.8 318.5 L905.6 324.3 L903 335 L897 334.6Z" fill="#000" stroke="#000" stroke-width="1.8" stroke-linejoin="round" />
<path d="M898.4 332.2 L899.5 326 L904 326.3 L902.6 332.4Z" fill="#fff" stroke="none" stroke-width="0" stroke-linejoin="round" />
<path d="M884 318.9 L896.9 323.1 L902.3 323.4 L889.5 319.2Z" fill="#fff" stroke="none" stroke-width="0" stroke-linejoin="round" />
<path d="M816.2 514.3 L821.1 504.7 L838.9 510.5 L844 513.8 L839.7 523.9 L821.9 518.1Z" fill="#000" stroke="#000" stroke-width="1.8" stroke-linejoin="round" />
<path d="M842.1 515.6 L839.6 521.3 L835.9 518.9 L838.6 513.3Z" fill="#fff" stroke="none" stroke-width="0" stroke-linejoin="round" />
<path d="M823.9 518.6 L836.7 522.8 L832.1 519.8 L819.3 515.6Z" fill="#fff" stroke="none" stroke-width="0" stroke-linejoin="round" />
<path d="M790.3 498.2 L796.4 489.7 L813.2 495.2 L818.4 501.2 L812.9 510.4 L796.1 504.9Z" fill="#000" stroke="#000" stroke-width="1.8" stroke-linejoin="round" />
<path d="M816.4 502.5 L813.2 507.7 L809 502.9 L812.5 498Z" fill="#fff" stroke="none" stroke-width="0" stroke-linejoin="round" />
<path d="M798.1 505.3 L810 509.1 L805.1 503.5 L793.3 499.7Z" fill="#fff" stroke="none" stroke-width="0" stroke-linejoin="round" />
<path d="M845.6 317.3 L854.2 314.7 L871 320.1 L870.5 330.7 L862.7 333 L845.9 327.6Z" fill="#000" stroke="#000" stroke-width="1.8" stroke-linejoin="round" />
<path d="M863.7 330.3 L863.6 324.4 L869.8 322.5 L869.5 328.5Z" fill="#fff" stroke="none" stroke-width="0" stroke-linejoin="round" />
<path d="M848.6 317.9 L860.5 321.7 L867.8 319.5 L855.9 315.7Z" fill="#fff" stroke="none" stroke-width="0" stroke-linejoin="round" />
<path d="M832.6 519.9 L837.5 510.2 L856.3 516.3 L862.4 520.2 L858.2 530.3 L839.5 524.2Z" fill="#000" stroke="#000" stroke-width="1.8" stroke-linejoin="round" />
<path d="M860.5 522 L858.1 527.8 L853.3 524.8 L856 519.2Z" fill="#fff" stroke="none" stroke-width="0" stroke-linejoin="round" />
<path d="M841.4 524.7 L855.3 529.2 L849.6 525.7 L835.7 521.2Z" fill="#fff" stroke="none" stroke-width="0" stroke-linejoin="round" />
<path d="M848.1 526.9 L842.9 523.7" fill="none" stroke="#000" stroke-width="1.6" stroke-linejoin="round" stroke-linecap="butt" />
<path d="M893.1 334 L894.7 323.3 L902.8 323.6 L921.6 329.7 L919.2 340.4 L911.9 340.1Z" fill="#000" stroke="#000" stroke-width="1.8" stroke-linejoin="round" />
<path d="M913.4 337.6 L914.3 331.5 L920 331.7 L918.7 337.8Z" fill="#fff" stroke="none" stroke-width="0" stroke-linejoin="round" />
<path d="M897.8 324.1 L911.6 328.6 L918.4 328.8 L904.6 324.3Z" fill="#fff" stroke="none" stroke-width="0" stroke-linejoin="round" />
<path d="M905 326.3 L911.1 326.5" fill="none" stroke="#000" stroke-width="1.6" stroke-linejoin="round" stroke-linecap="butt" />
<path d="M863.7 331.4 L863.7 321 L870.8 319.1 L888.6 324.9 L887.8 335.5 L881.5 337.1Z" fill="#000" stroke="#000" stroke-width="1.8" stroke-linejoin="round" />
<path d="M882.6 334.4 L882.6 328.5 L887.3 327.3 L886.9 333.3Z" fill="#fff" stroke="none" stroke-width="0" stroke-linejoin="round" />
<path d="M866.8 321.6 L879.6 325.8 L885.3 324.3 L872.4 320.1Z" fill="#fff" stroke="none" stroke-width="0" stroke-linejoin="round" />
<path d="M781 481.5 L788 474.8 L804.9 480.2 L808.6 488.1 L802 495.8 L785.2 490.3Z" fill="#000" stroke="#000" stroke-width="1.8" stroke-linejoin="round" />
<path d="M806.5 488.8 L802.7 493.1 L799.7 486.9 L803.7 482.9Z" fill="#fff" stroke="none" stroke-width="0" stroke-linejoin="round" />
<path d="M787.4 490.5 L799.2 494.4 L795.7 487 L783.8 483.2Z" fill="#fff" stroke="none" stroke-width="0" stroke-linejoin="round" />
<path d="M804.1 501.6 L810.2 493.2 L828 499 L832.1 504.2 L826.4 513.1 L808.6 507.3Z" fill="#000" stroke="#000" stroke-width="1.8" stroke-linejoin="round" />
<path d="M830.1 505.4 L826.8 510.4 L823.8 506.7 L827.3 501.9Z" fill="#fff" stroke="none" stroke-width="0" stroke-linejoin="round" />
<path d="M810.7 507.7 L823.6 511.9 L819.9 507.2 L807 503.1Z" fill="#fff" stroke="none" stroke-width="0" stroke-linejoin="round" />
<path d="M828.4 326.5 L836.9 321.3 L853.7 326.7 L854.9 336.6 L847.3 341.3 L830.5 335.8Z" fill="#000" stroke="#000" stroke-width="1.8" stroke-linejoin="round" />
<path d="M831.5 326.9 L843.3 330.8 L850.4 326.4 L838.5 322.5Z" fill="#fff" stroke="none" stroke-width="0" stroke-linejoin="round" />
<path d="M775.4 461.4 L783 456.7 L799.8 462.2 L801.9 471.5 L794.5 477.2 L777.7 471.8Z" fill="#000" stroke="#000" stroke-width="1.8" stroke-linejoin="round" />
<path d="M799.9 471.5 L795.6 474.7 L794 467.3 L798.3 464.6Z" fill="#fff" stroke="none" stroke-width="0" stroke-linejoin="round" />
<path d="M780 471.9 L791.9 475.7 L789.9 467 L778 463.2Z" fill="#fff" stroke="none" stroke-width="0" stroke-linejoin="round" />
<path d="M820.4 507.4 L826.5 499 L845.3 505.1 L850.2 511 L844.7 520.1 L825.9 514Z" fill="#000" stroke="#000" stroke-width="1.8" stroke-linejoin="round" />
<path d="M848.2 512.3 L845 517.5 L841.1 512.8 L844.6 507.9Z" fill="#fff" stroke="none" stroke-width="0" stroke-linejoin="round" />
<path d="M828 514.4 L841.8 518.9 L837.2 513.4 L823.3 508.9Z" fill="#fff" stroke="none" stroke-width="0" stroke-linejoin="round" />
<path d="M834.7 516.4 L830.5 511.4" fill="none" stroke="#000" stroke-width="1.6" stroke-linejoin="round" stroke-linecap="butt" />
<path d="M846.4 329.2 L853.4 325.2 L871.2 331 L872.2 341 L866 344.5 L848.2 338.8Z" fill="#000" stroke="#000" stroke-width="1.8" stroke-linejoin="round" />
<path d="M866.7 341.7 L865.7 336.2 L870.2 333.6 L870.9 339.3Z" fill="#fff" stroke="none" stroke-width="0" stroke-linejoin="round" />
<path d="M849.5 329.6 L862.3 333.8 L867.9 330.6 L855.1 326.4Z" fill="#fff" stroke="none" stroke-width="0" stroke-linejoin="round" />
<path d="M877.4 326.8 L885.8 324.4 L904.6 330.5 L903.9 341.1 L896.4 343.2 L877.6 337.1Z" fill="#000" stroke="#000" stroke-width="1.8" stroke-linejoin="round" />
<path d="M897.5 340.5 L897.4 334.6 L903.3 332.9 L903 339Z" fill="#fff" stroke="none" stroke-width="0" stroke-linejoin="round" />
<path d="M880.5 327.4 L894.3 331.9 L901.3 329.9 L887.5 325.4Z" fill="#fff" stroke="none" stroke-width="0" stroke-linejoin="round" />
<path d="M887.7 329.5 L894 327.7" fill="none" stroke="#000" stroke-width="1.6" stroke-linejoin="round" stroke-linecap="butt" />
<path d="M795.1 484.5 L802.2 478 L820 483.8 L822.9 490.4 L816.1 497.7 L798.4 491.9Z" fill="#000" stroke="#000" stroke-width="1.8" stroke-linejoin="round" />
<path d="M820.9 490.9 L816.9 495.1 L814.8 490.2 L818.9 486.4Z" fill="#fff" stroke="none" stroke-width="0" stroke-linejoin="round" />
<path d="M800.5 492.1 L813.4 496.3 L810.8 490.4 L797.9 486.2Z" fill="#fff" stroke="none" stroke-width="0" stroke-linejoin="round" />
<path d="M812.3 340.5 L820.1 333 L836.9 338.5 L839.9 347.1 L832.9 353.9 L816.1 348.4Z" fill="#000" stroke="#000" stroke-width="1.8" stroke-linejoin="round" />
<path d="M815.3 340.8 L827.2 344.6 L833.7 338.3 L821.9 334.4Z" fill="#fff" stroke="none" stroke-width="0" stroke-linejoin="round" />
<path d="M773.7 438.8 L781.5 436.5 L798.3 442 L798.6 452.2 L790.9 455.7 L774 450.2Z" fill="#000" stroke="#000" stroke-width="1.8" stroke-linejoin="round" />
<path d="M796.8 451.6 L792.3 453.5 L792.1 445.4 L796.5 443.9Z" fill="#fff" stroke="none" stroke-width="0" stroke-linejoin="round" />
<path d="M777 450.4 L782.4 452.1 L782.1 445.9 L776.7 444.1Z" fill="#fff" stroke="none" stroke-width="0" stroke-linejoin="round" />
<path d="M783.6 444.1 L788.6 450.3" fill="none" stroke="#fff" stroke-width="1.6" stroke-linejoin="round" stroke-linecap="butt" />
<path d="M798.2 358.6 L804.9 349.2 L821.7 354.7 L826.3 361.6 L820.3 370.1 L803.5 364.6Z" fill="#000" stroke="#000" stroke-width="1.8" stroke-linejoin="round" />
<path d="M801.7 358.9 L807.1 360.6 L810.7 355.4 L805.3 353.6Z" fill="#fff" stroke="none" stroke-width="0" stroke-linejoin="round" />
<path d="M813.6 354.1 L815.8 359.3" fill="none" stroke="#fff" stroke-width="1.6" stroke-linejoin="round" stroke-linecap="butt" />
<path d="M830.1 342.4 L836.5 336.5 L854.3 342.2 L857.1 351.1 L851.4 356.3 L833.5 350.6Z" fill="#000" stroke="#000" stroke-width="1.8" stroke-linejoin="round" />
<path d="M833.1 342.7 L845.9 346.8 L851.1 342.1 L838.3 337.9Z" fill="#fff" stroke="none" stroke-width="0" stroke-linejoin="round" />
<path d="M789.9 464.1 L797.5 459.6 L815.3 465.4 L816.8 473.2 L809.4 478.5 L791.6 472.7Z" fill="#000" stroke="#000" stroke-width="1.8" stroke-linejoin="round" />
<path d="M814.8 473.1 L810.5 476.1 L809.5 470.4 L813.8 467.8Z" fill="#fff" stroke="none" stroke-width="0" stroke-linejoin="round" />
<path d="M793.9 472.8 L806.7 477 L805.4 470 L792.5 465.9Z" fill="#fff" stroke="none" stroke-width="0" stroke-linejoin="round" />
<path d="M811.3 490.5 L818.4 483.9 L837.2 490 L840.7 497.7 L834 505.2 L815.2 499.1Z" fill="#000" stroke="#000" stroke-width="1.8" stroke-linejoin="round" />
<path d="M838.6 498.3 L834.8 502.6 L832 496.5 L836 492.6Z" fill="#fff" stroke="none" stroke-width="0" stroke-linejoin="round" />
<path d="M817.4 499.4 L831.2 503.9 L827.9 496.7 L814.1 492.2Z" fill="#fff" stroke="none" stroke-width="0" stroke-linejoin="round" />
<path d="M824.2 501.3 L821.2 494.8" fill="none" stroke="#000" stroke-width="1.6" stroke-linejoin="round" stroke-linecap="butt" />
<path d="M774.4 426.9 L776 415 L783.6 415.2 L800.4 420.6 L798.9 431.3 L791.2 432.4Z" fill="#000" stroke="#000" stroke-width="1.8" stroke-linejoin="round" />
<path d="M777.4 427 L782.9 428.7 L783.7 422.3 L778.3 420.5Z" fill="#fff" stroke="none" stroke-width="0" stroke-linejoin="round" />
<path d="M785.6 420.4 L789.8 426.7" fill="none" stroke="#fff" stroke-width="1.6" stroke-linejoin="round" stroke-linecap="butt" />
<path d="M860.2 335.7 L868.4 330.8 L887.2 336.9 L888.4 346.8 L881 351.2 L862.2 345.1Z" fill="#000" stroke="#000" stroke-width="1.8" stroke-linejoin="round" />
<path d="M863.3 336.1 L877.1 340.6 L884 336.5 L870.1 332Z" fill="#fff" stroke="none" stroke-width="0" stroke-linejoin="round" />
<path d="M870.5 338.1 L876.7 334.4" fill="none" stroke="#000" stroke-width="1.6" stroke-linejoin="round" stroke-linecap="butt" />
<path d="M786.8 379.8 L792.1 369 L808.9 374.5 L814.8 379.4 L810 389.1 L793.2 383.6Z" fill="#000" stroke="#000" stroke-width="1.8" stroke-linejoin="round" />
<path d="M790.1 380 L795.6 381.7 L798.4 375.8 L793 374Z" fill="#fff" stroke="none" stroke-width="0" stroke-linejoin="round" />
<path d="M801 374.1 L803.8 380" fill="none" stroke="#fff" stroke-width="1.6" stroke-linejoin="round" stroke-linecap="butt" />
<path d="M778.7 403 L782.3 391.4 L799.1 396.8 L806 399.4 L802.8 409.9 L795.5 408.5Z" fill="#000" stroke="#000" stroke-width="1.8" stroke-linejoin="round" />
<path d="M781.9 403.1 L787.4 404.9 L789.2 398.5 L783.8 396.7Z" fill="#fff" stroke="none" stroke-width="0" stroke-linejoin="round" />
<path d="M791.5 396.7 L795 402.9" fill="none" stroke="#fff" stroke-width="1.6" stroke-linejoin="round" stroke-linecap="butt" />
<path d="M815.5 359.8 L821.2 352.3 L839 358 L843.4 365.2 L838.3 371.9 L820.5 366.2Z" fill="#000" stroke="#000" stroke-width="1.8" stroke-linejoin="round" />
<path d="M818.4 359.9 L831.3 364.1 L835.8 358 L823 353.9Z" fill="#fff" stroke="none" stroke-width="0" stroke-linejoin="round" />
<path d="M788.6 441.3 L796.4 439.3 L814.2 445 L814.2 453.5 L806.4 456.6 L788.6 450.8Z" fill="#000" stroke="#000" stroke-width="1.8" stroke-linejoin="round" />
<path d="M791 444.3 L800.4 447.3" fill="none" stroke="#fff" stroke-width="3.4" stroke-linejoin="round" stroke-linecap="butt" />
<path d="M794.5 451 L798.4 449.7" fill="none" stroke="#fff" stroke-width="1.4" stroke-linejoin="round" stroke-linecap="butt" />
<path d="M805.9 470.2 L813.5 465.7 L832.3 471.8 L834.2 480.9 L826.8 486.4 L808 480.4Z" fill="#000" stroke="#000" stroke-width="1.8" stroke-linejoin="round" />
<path d="M832.2 480.9 L827.9 484 L826.4 476.8 L830.8 474.1Z" fill="#fff" stroke="none" stroke-width="0" stroke-linejoin="round" />
<path d="M810.3 480.5 L824.1 485 L822.4 476.5 L808.5 472Z" fill="#fff" stroke="none" stroke-width="0" stroke-linejoin="round" />
<path d="M817.1 482.3 L815.5 474.7" fill="none" stroke="#000" stroke-width="1.6" stroke-linejoin="round" stroke-linecap="butt" />
<path d="M844 349.4 L851.6 342.2 L870.4 348.3 L873.3 357.1 L866.5 363.5 L847.7 357.4Z" fill="#000" stroke="#000" stroke-width="1.8" stroke-linejoin="round" />
<path d="M847 349.7 L860.9 354.2 L867.2 348.2 L853.4 343.7Z" fill="#fff" stroke="none" stroke-width="0" stroke-linejoin="round" />
<path d="M854.2 351.6 L859.9 346.2" fill="none" stroke="#000" stroke-width="1.6" stroke-linejoin="round" stroke-linecap="butt" />
<path d="M803.5 380.5 L808 371.8 L825.9 377.5 L831.6 382.7 L827.6 390.5 L809.8 384.7Z" fill="#000" stroke="#000" stroke-width="1.8" stroke-linejoin="round" />
<path d="M809.5 374.5 L818.9 377.5" fill="none" stroke="#fff" stroke-width="3.4" stroke-linejoin="round" stroke-linecap="butt" />
<path d="M810.3 380.8 L815.5 379.6" fill="none" stroke="#fff" stroke-width="1.4" stroke-linejoin="round" stroke-linecap="butt" />
<path d="M789.7 427.2 L791.3 417.5 L798.8 417.9 L816.6 423.7 L815.2 432.4 L807.5 433Z" fill="#000" stroke="#000" stroke-width="1.8" stroke-linejoin="round" />
<path d="M793.4 420.5 L802.8 423.5" fill="none" stroke="#fff" stroke-width="3.4" stroke-linejoin="round" stroke-linecap="butt" />
<path d="M795.9 427.4 L800.3 426" fill="none" stroke="#fff" stroke-width="1.4" stroke-linejoin="round" stroke-linecap="butt" />
<path d="M794.8 403.4 L797.9 393.9 L815.7 399.7 L822.5 402.5 L819.7 411 L812.6 409.2Z" fill="#000" stroke="#000" stroke-width="1.8" stroke-linejoin="round" />
<path d="M799.6 396.8 L809 399.8" fill="none" stroke="#fff" stroke-width="3.4" stroke-linejoin="round" stroke-linecap="butt" />
<path d="M801.3 403.5 L806.1 402.2" fill="none" stroke="#fff" stroke-width="1.4" stroke-linejoin="round" stroke-linecap="butt" />
<path d="M804.4 447.5 L812.2 445.4 L831 451.5 L831.2 461.4 L823.4 464.8 L804.6 458.7Z" fill="#000" stroke="#000" stroke-width="1.8" stroke-linejoin="round" />
<path d="M829.3 460.8 L824.9 462.6 L824.7 454.8 L829.2 453.4Z" fill="#fff" stroke="none" stroke-width="0" stroke-linejoin="round" />
<path d="M808.9 458.2 L808.8 450.9" fill="none" stroke="#fff" stroke-width="1.9" stroke-linejoin="round" stroke-linecap="butt" />
<path d="M814.9 460.2 L814.7 452.9" fill="none" stroke="#fff" stroke-width="1.9" stroke-linejoin="round" stroke-linecap="butt" />
<path d="M819.8 461.8 L819.7 454.5" fill="none" stroke="#fff" stroke-width="1.9" stroke-linejoin="round" stroke-linecap="butt" />
<path d="M829.8 367.3 L836.3 358.2 L855.1 364.3 L859.6 371.4 L853.7 379.5 L834.9 373.4Z" fill="#000" stroke="#000" stroke-width="1.8" stroke-linejoin="round" />
<path d="M835.3 367.1 L839.6 361.2" fill="none" stroke="#fff" stroke-width="1.9" stroke-linejoin="round" stroke-linecap="butt" />
<path d="M841.2 369 L845.5 363.1" fill="none" stroke="#fff" stroke-width="1.9" stroke-linejoin="round" stroke-linecap="butt" />
<path d="M846.2 370.6 L850.5 364.7" fill="none" stroke="#fff" stroke-width="1.9" stroke-linejoin="round" stroke-linecap="butt" />
<path d="M805.2 435.3 L806.9 423.7 L814.5 424 L833.2 430.1 L831.7 440.4 L824 441.4Z" fill="#000" stroke="#000" stroke-width="1.8" stroke-linejoin="round" />
<path d="M809.9 434.7 L811 427.2" fill="none" stroke="#fff" stroke-width="1.9" stroke-linejoin="round" stroke-linecap="butt" />
<path d="M815.8 436.7 L817 429.1" fill="none" stroke="#fff" stroke-width="1.9" stroke-linejoin="round" stroke-linecap="butt" />
<path d="M820.8 438.3 L821.9 430.7" fill="none" stroke="#fff" stroke-width="1.9" stroke-linejoin="round" stroke-linecap="butt" />
<path d="M818.1 388.3 L823.4 377.9 L842.1 383.9 L848 389 L843.3 398.4 L824.5 392.2Z" fill="#000" stroke="#000" stroke-width="1.8" stroke-linejoin="round" />
<path d="M823.4 387.9 L826.9 381" fill="none" stroke="#fff" stroke-width="1.9" stroke-linejoin="round" stroke-linecap="butt" />
<path d="M829.4 389.8 L832.8 383" fill="none" stroke="#fff" stroke-width="1.9" stroke-linejoin="round" stroke-linecap="butt" />
<path d="M834.3 391.4 L837.7 384.6" fill="none" stroke="#fff" stroke-width="1.9" stroke-linejoin="round" stroke-linecap="butt" />
<path d="M809.8 411.4 L813.4 400.1 L832.2 406.2 L839 408.9 L835.8 419 L828.6 417.5Z" fill="#000" stroke="#000" stroke-width="1.8" stroke-linejoin="round" />
<path d="M814.8 410.9 L817.2 403.5" fill="none" stroke="#fff" stroke-width="1.9" stroke-linejoin="round" stroke-linecap="butt" />
<path d="M820.7 412.8 L823.1 405.4" fill="none" stroke="#fff" stroke-width="1.9" stroke-linejoin="round" stroke-linecap="butt" />
<path d="M825.7 414.4 L828 407" fill="none" stroke="#fff" stroke-width="1.9" stroke-linejoin="round" stroke-linecap="butt" />
<ellipse cx="899.7" cy="433" rx="61" ry="91" fill="#fff" stroke="#000" stroke-width="1.2" transform="rotate(18 899.7 433)" />
<ellipse cx="901" cy="433.5" rx="58.7" ry="87" fill="#fff" stroke="#000" stroke-width="3.4" transform="rotate(18 901 433.5)" />
<ellipse cx="900.7" cy="433.5" rx="55.3" ry="82.5" fill="none" stroke="#666" stroke-width="0.7" transform="rotate(18 900.7 433.5)" />
<ellipse cx="900.7" cy="433.5" rx="53.6" ry="80" fill="none" stroke="#999" stroke-width="0.6" transform="rotate(18 900.7 433.5)" />
<path d="M930.1 474.9 L928 477.7 L925.8 480.3 L923.6 482.8 L921.3 485.1 L918.9 487.3 L916.5 489.4 L914 491.3 L911.5 493 L909 494.6 L906.4 496 L903.8 497.2 L901.2 498.2 L898.6 499.1 L896 499.8 L893.4 500.2 L890.9 500.5 L888.3 500.6 L885.8 500.6 L883.3 500.3 L880.9 499.8 L878.5 499.2 L876.2 498.4 L874 497.4 L871.8 496.2 L869.7 494.8 L867.7 493.3 L865.7 491.6 L863.9 489.7 L862.2 487.7 L860.5 485.5 L859 483.1 L857.6 480.7 L856.3 478.1 L855.1 475.3 L854.1 472.5" fill="none" stroke="#000" stroke-width="4.8" stroke-linejoin="round" stroke-linecap="butt" stroke-dasharray="12 2.5"/>
<path d="M901.3 368.7 L903.9 368 L906.5 367.6 L909.1 367.4 L911.6 367.3 L914.1 367.5 L916.6 367.8 L919 368.4" fill="none" stroke="#000" stroke-width="3.8" stroke-linejoin="round" stroke-linecap="round" />
<path d="M904.9 363.6 L897.1 370.1 L903.5 371.9Z" fill="#000" stroke="#000" stroke-width="1.6" stroke-linejoin="round" />
<path d="M933.7 371.3 L935.8 373.3 L937.8 375.4 L939.7 377.8 L941.4 380.3 L943 383 L944.5 385.9 L945.8 388.9 L946.9 392.1" fill="none" stroke="#000" stroke-width="10.5" stroke-linejoin="round" stroke-linecap="butt" stroke-dasharray="4 1 9 1.5 5 1"/>
<path d="M935.4 384.1 L936.9 386.4 L938.4 388.9 L939.7 391.5 L940.8 394.3 L941.9 397.2 L942.8 400.2" fill="none" stroke="#000" stroke-width="4.0" stroke-linejoin="round" stroke-linecap="butt" stroke-dasharray="5 2"/>
<path d="M872.6 392.1 L874.5 389.6 L876.6 387.3 L878.7 385 L880.9 383 L883.1 381 L885.4 379.2 L887.7 377.5 L890 376" fill="none" stroke="#000" stroke-width="7.0" stroke-linejoin="round" stroke-linecap="butt" stroke-dasharray="9 3 4 2 6 3"/>
<path d="M856.7 423.8 L857.7 420.4 L858.8 417 L860 413.7 L861.4 410.4 L862.9 407.2 L864.4 404.1 L866.1 401.1 L867.9 398.1 L869.8 395.3" fill="none" stroke="#000" stroke-width="5.4" stroke-linejoin="round" stroke-linecap="butt" stroke-dasharray="5 3 8 3"/>
<ellipse cx="901.7" cy="432.2" rx="38.3" ry="55.5" fill="#fff" stroke="#000" stroke-width="3" transform="rotate(18 901.7 432.2)" />
<ellipse cx="899.5" cy="431.7" rx="34.9" ry="51" fill="none" stroke="#333" stroke-width="0.8" transform="rotate(18 899.5 431.7)" />
<ellipse cx="898.5" cy="431.4" rx="32.2" ry="47" fill="none" stroke="#888" stroke-width="0.6" transform="rotate(18 898.5 431.4)" />
<ellipse cx="897.5" cy="431" rx="29.5" ry="43" fill="none" stroke="#555" stroke-width="0.7" transform="rotate(18 897.5 431)" />
<ellipse cx="896.2" cy="430.6" rx="26" ry="38" fill="none" stroke="#999" stroke-width="0.6" transform="rotate(18 896.2 430.6)" />
<ellipse cx="895" cy="430.2" rx="22.6" ry="33" fill="none" stroke="#777" stroke-width="0.6" transform="rotate(18 895 430.2)" />
<path d="M925.4 391.4 L927.4 393.9 L929.3 396.6 L930.9 399.7 L932.3 402.9 L933.5 406.4 L934.4 410.1 L935 414 L935.4 418 L935.5 422.2 L935.3 426.4 L934.8 430.7 L934.1 435 L933.1 439.2 L931.9 443.5 L930.4 447.6 L928.7 451.6 L926.7 455.5 L924.6 459.3 L922.3 462.8 L919.8 466.1 L917.1 469.1 L914.3 471.9 L911.4 474.4 L908.4 476.5 L905.4 478.3" fill="none" stroke="#222" stroke-width="1.6" stroke-linejoin="round" stroke-linecap="round" />
<ellipse cx="876.5" cy="423.6" rx="12.6" ry="20" fill="#fff" stroke="#000" stroke-width="1.8" transform="rotate(18 876.5 423.6)" />
<ellipse cx="877.6" cy="424" rx="8.8" ry="13.2" fill="#fff" stroke="#000" stroke-width="3.4" transform="rotate(18 877.6 424)" />
<path d="M880 411.6 L896 418.2 L890 439.4 L874.5 436Z" fill="#fff" stroke="none" stroke-width="0" stroke-linejoin="round" />
<path d="M880.6 411.4 L896.2 418.4" fill="none" stroke="#000" stroke-width="2.6" stroke-linejoin="round" stroke-linecap="round" />
<path d="M874.4 436.2 L889.6 439.6" fill="none" stroke="#000" stroke-width="2.6" stroke-linejoin="round" stroke-linecap="round" />
<ellipse cx="893" cy="428.8" rx="7.6" ry="10.8" fill="#000" stroke="#000" stroke-width="3.0" transform="rotate(18 893 428.8)" />
<ellipse cx="894.6" cy="429.4" rx="5" ry="8.6" fill="#fff" stroke="#000" stroke-width="0.6" transform="rotate(18 894.6 429.4)" />
<line x1="890" y1="433.5" x2="899.5" y2="430.5" stroke="#555" stroke-width="0.8" />
</g>
<ellipse cx="104.2" cy="155.9" rx="12.6" ry="14" fill="none" stroke="#000" stroke-width="1.6" transform="rotate(12 104.2 155.9)" />
<ellipse cx="104.2" cy="155.9" rx="10.4" ry="11.8" fill="none" stroke="#222" stroke-width="1.2" transform="rotate(12 104.2 155.9)" />
<path d="M97.7 140.4 L103.7 139.9 L105.4 147.9 L99.2 148.9Z" fill="#000" stroke="#000" stroke-width="1.2" stroke-linejoin="round" />
<line x1="99.6" y1="145.9" x2="99.6" y2="170.9" stroke="#000" stroke-width="1.6" />
<line x1="102.8" y1="145.9" x2="102.8" y2="169.9" stroke="#222" stroke-width="1.4" />
<ellipse cx="100.7" cy="171.4" rx="2.4" ry="1.6" fill="#000" stroke="#000" stroke-width="0.5" />
<ellipse cx="133.4" cy="162.8" rx="7.5" ry="11.3" fill="#fff" stroke="#000" stroke-width="2.2" transform="rotate(18 133.4 162.8)" />
<path d="M130 173.5 L139.5 176.6 L146.4 155.1 L136.9 152Z" fill="#fff" stroke="none" stroke-width="0" stroke-linejoin="round" />
<line x1="130" y1="173.5" x2="139.5" y2="176.6" stroke="#000" stroke-width="2.2" />
<line x1="136.9" y1="152" x2="146.4" y2="155.1" stroke="#000" stroke-width="2.2" />
<ellipse cx="143" cy="165.8" rx="7.5" ry="11.3" fill="#fff" stroke="#000" stroke-width="2.4" transform="rotate(18 143 165.8)" />
<ellipse cx="143.3" cy="165.8" rx="4.5" ry="7" fill="#fff" stroke="#000" stroke-width="2.0" transform="rotate(18 143.3 165.8)" />
<ellipse cx="144.2" cy="166.4" rx="2.4" ry="4.1" fill="#fff" stroke="#333" stroke-width="1.0" transform="rotate(18 144.2 166.4)" />
<ellipse cx="131.9" cy="167.3" rx="1.8" ry="2.3" fill="#000" stroke="#000" stroke-width="1.5" transform="rotate(18 131.9 167.3)" />
<path d="M107.4 108.9 L78.9 144.4 L89.8 150.3" fill="none" stroke="#ed1c24" stroke-width="2.4" stroke-linejoin="round" stroke-linecap="round" />
<ellipse cx="340.4" cy="237.8" rx="7.5" ry="11.3" fill="#fff" stroke="#000" stroke-width="2.2" transform="rotate(18 340.4 237.8)" />
<path d="M337 248.5 L346.5 251.6 L353.4 230.1 L343.9 227Z" fill="#fff" stroke="none" stroke-width="0" stroke-linejoin="round" />
<line x1="337" y1="248.5" x2="346.5" y2="251.6" stroke="#000" stroke-width="2.2" />
<line x1="343.9" y1="227" x2="353.4" y2="230.1" stroke="#000" stroke-width="2.2" />
<ellipse cx="350" cy="240.8" rx="7.5" ry="11.3" fill="#fff" stroke="#000" stroke-width="2.4" transform="rotate(18 350 240.8)" />
<ellipse cx="350.3" cy="240.8" rx="4.5" ry="7" fill="#fff" stroke="#000" stroke-width="2.0" transform="rotate(18 350.3 240.8)" />
<ellipse cx="351.2" cy="241.4" rx="2.4" ry="4.1" fill="#fff" stroke="#333" stroke-width="1.0" transform="rotate(18 351.2 241.4)" />
<ellipse cx="338.9" cy="242.3" rx="1.8" ry="2.3" fill="#000" stroke="#000" stroke-width="1.5" transform="rotate(18 338.9 242.3)" />
<ellipse cx="370.9" cy="245.7" rx="8.7" ry="13.3" fill="#fff" stroke="#000" stroke-width="2.3" transform="rotate(18 370.9 245.7)" />
<ellipse cx="371.2" cy="245.7" rx="4" ry="6.2" fill="#fff" stroke="#000" stroke-width="1.8" transform="rotate(18 371.2 245.7)" />
<ellipse cx="393" cy="253.8" rx="8.7" ry="13.3" fill="#fff" stroke="#000" stroke-width="2.3" transform="rotate(18 393 253.8)" />
<ellipse cx="393.3" cy="253.8" rx="4" ry="6.2" fill="#fff" stroke="#000" stroke-width="1.8" transform="rotate(18 393.3 253.8)" />
<ellipse cx="415.7" cy="261.7" rx="8.5" ry="12.5" fill="#fff" stroke="#000" stroke-width="3.6" transform="rotate(18 415.7 261.7)" />
<path d="M412.5 271.6 L423 275 L429.5 255.1 L419 251.7Z" fill="#fff" stroke="none" stroke-width="0" stroke-linejoin="round" />
<line x1="412.5" y1="271.6" x2="423" y2="275" stroke="#000" stroke-width="2.4" />
<line x1="419" y1="251.7" x2="429.5" y2="255.1" stroke="#000" stroke-width="2.4" />
<ellipse cx="426.2" cy="265.1" rx="7" ry="10.5" fill="#fff" stroke="#000" stroke-width="2.6" transform="rotate(18 426.2 265.1)" />
<ellipse cx="426.6" cy="265.1" rx="4" ry="6.8" fill="#fff" stroke="#000" stroke-width="2.0" transform="rotate(18 426.6 265.1)" />
<path d="M414.2 260.7 L414.2 268.7 L418.2 269.7 L418.2 261.7" fill="none" stroke="#000" stroke-width="1.8" stroke-linejoin="round" stroke-linecap="round" />
<line x1="489.8" y1="245.5" x2="489.8" y2="267.5" stroke="#000" stroke-width="4.6" stroke-linecap="round"/>
<g>
<ellipse cx="551.4" cy="221" rx="36.1" ry="53.5" fill="#000" stroke="#000" stroke-width="2.2" transform="rotate(18 551.4 221)" stroke-dasharray="1.5 1.5"/>
<ellipse cx="556" cy="222.5" rx="36.1" ry="53.5" fill="#000" stroke="#000" stroke-width="2.2" transform="rotate(18 556 222.5)" stroke-dasharray="1.5 1.5"/>
<ellipse cx="558.4" cy="223.3" rx="33" ry="49.3" fill="#fff" stroke="#000" stroke-width="0.8" transform="rotate(18 558.4 223.3)" stroke-dasharray="1.2 1.6"/>
<ellipse cx="556" cy="222.5" rx="28.2" ry="42.5" fill="#fff" stroke="#000" stroke-width="2.4" transform="rotate(18 556 222.5)" />
<ellipse cx="566.3" cy="197.7" rx="8" ry="12.2" fill="#fff" stroke="#000" stroke-width="1.8" transform="rotate(18 566.3 197.7)" />
<ellipse cx="567.3" cy="198.2" rx="6.2" ry="10.2" fill="none" stroke="#333" stroke-width="0.9" transform="rotate(18 567.3 198.2)" />
<ellipse cx="544.7" cy="205.2" rx="8" ry="12.2" fill="#fff" stroke="#000" stroke-width="1.8" transform="rotate(18 544.7 205.2)" />
<ellipse cx="545.7" cy="205.7" rx="6.2" ry="10.2" fill="none" stroke="#333" stroke-width="0.9" transform="rotate(18 545.7 205.7)" />
<ellipse cx="573.6" cy="223.6" rx="8" ry="12.2" fill="#fff" stroke="#000" stroke-width="1.8" transform="rotate(18 573.6 223.6)" />
<ellipse cx="574.6" cy="224.1" rx="6.2" ry="10.2" fill="none" stroke="#333" stroke-width="0.9" transform="rotate(18 574.6 224.1)" />
<ellipse cx="537.4" cy="234.3" rx="8" ry="12.2" fill="#fff" stroke="#000" stroke-width="1.8" transform="rotate(18 537.4 234.3)" />
<ellipse cx="538.4" cy="234.8" rx="6.2" ry="10.2" fill="none" stroke="#333" stroke-width="0.9" transform="rotate(18 538.4 234.8)" />
<ellipse cx="555.3" cy="244" rx="8" ry="12.2" fill="#fff" stroke="#000" stroke-width="1.8" transform="rotate(18 555.3 244)" />
<ellipse cx="556.3" cy="244.5" rx="6.2" ry="10.2" fill="none" stroke="#333" stroke-width="0.9" transform="rotate(18 556.3 244.5)" />
<ellipse cx="556" cy="222.5" rx="7.2" ry="9.2" fill="#fff" stroke="#000" stroke-width="2.0" transform="rotate(18 556 222.5)" />
<ellipse cx="556" cy="222.5" rx="4.6" ry="6" fill="#000" stroke="#000" stroke-width="1.6" transform="rotate(18 556 222.5)" />
<ellipse cx="556.4" cy="223.7" rx="1.8" ry="2.4" fill="#fff" stroke="#000" stroke-width="0.3" transform="rotate(18 556.4 223.7)" />
</g>
<path d="M445.5 265.3 L678.5 350.6 L674.5 363.2 L441.5 278Z" fill="#fff" stroke="none" stroke-width="0" stroke-linejoin="round" />
<path d="M676.8 350.8 L446 266.2 L441.5 265.2 L438.3 267.6 L436.8 272.5 L438.5 276.8 L441.6 278.6 L673 363" fill="none" stroke="#000" stroke-width="2.3" stroke-linejoin="round" stroke-linecap="round" />
<ellipse cx="678.3" cy="357" rx="4.6" ry="7" fill="#000" stroke="#000" stroke-width="1.6" transform="rotate(18 678.3 357)" />
<line x1="448" y1="271.2" x2="460" y2="275.6" stroke="#333" stroke-width="0.9" />
<line x1="470" y1="279.2" x2="482" y2="283.6" stroke="#333" stroke-width="0.9" />
<line x1="496" y1="288.7" x2="508" y2="293.1" stroke="#333" stroke-width="0.9" />
<ellipse cx="462.5" cy="273" rx="1.4" ry="2.3" fill="#000" stroke="#000" stroke-width="0.6" transform="rotate(18 462.5 273)" />
<ellipse cx="487.5" cy="291.8" rx="2.1" ry="3.2" fill="#fff" stroke="#000" stroke-width="1.6" transform="rotate(18 487.5 291.8)" />
<ellipse cx="524" cy="296" rx="1.4" ry="2" fill="#000" stroke="#000" stroke-width="0.6" transform="rotate(18 524 296)" />
<ellipse cx="616.2" cy="338.6" rx="1.9" ry="3" fill="#fff" stroke="#000" stroke-width="1.6" transform="rotate(18 616.2 338.6)" />
<path d="M509.5 298.3 L518.8 301.6 L517.6 306.2 L508.3 302.8Z" fill="#000" stroke="#000" stroke-width="1" stroke-linejoin="round" />
<path d="M485.8 308 L490 306.2 L496.5 308.2 L497 314 L493 315.6 L486 312.8Z" fill="#000" stroke="#000" stroke-width="1" stroke-linejoin="round" />
<path d="M690.3 362.4 L695 353.9 L704.7 356.4 L704.7 375.8 L697.1 375.2 L690.9 370.1Z" fill="#fff" stroke="#000" stroke-width="2.4" stroke-linejoin="round" />
<line x1="691.9" y1="361.4" x2="702.2" y2="364.6" stroke="#333" stroke-width="1.1" />
<line x1="691.6" y1="369.2" x2="702.2" y2="372.1" stroke="#333" stroke-width="1.1" />
<ellipse cx="705.3" cy="367.4" rx="8.4" ry="11.8" fill="#fff" stroke="#000" stroke-width="2.2" transform="rotate(18 705.3 367.4)" />
<ellipse cx="707.5" cy="368.2" rx="8.4" ry="11.8" fill="#fff" stroke="#000" stroke-width="2.6" transform="rotate(18 707.5 368.2)" />
<ellipse cx="707.9" cy="368.4" rx="4.9" ry="7.4" fill="#fff" stroke="#000" stroke-width="2.4" transform="rotate(18 707.9 368.4)" />
<ellipse cx="708.7" cy="368.8" rx="2.2" ry="3.5" fill="none" stroke="#444" stroke-width="0.8" transform="rotate(18 708.7 368.8)" />
<ellipse cx="728.1" cy="372.7" rx="8.8" ry="12.8" fill="#fff" stroke="#000" stroke-width="2.2" transform="rotate(18 728.1 372.7)" />
<ellipse cx="728.4" cy="372.7" rx="4.4" ry="7" fill="#fff" stroke="#000" stroke-width="1.8" transform="rotate(18 728.4 372.7)" />
<ellipse cx="746.5" cy="380.6" rx="8.8" ry="12.8" fill="#fff" stroke="#000" stroke-width="2.2" transform="rotate(18 746.5 380.6)" />
<ellipse cx="746.8" cy="380.6" rx="4.4" ry="7" fill="#fff" stroke="#000" stroke-width="1.8" transform="rotate(18 746.8 380.6)" />
<ellipse cx="763.8" cy="389" rx="7.5" ry="11.3" fill="#fff" stroke="#000" stroke-width="2.2" transform="rotate(18 763.8 389)" />
<path d="M760.4 399.7 L769.9 402.8 L776.8 381.3 L767.3 378.2Z" fill="#fff" stroke="none" stroke-width="0" stroke-linejoin="round" />
<line x1="760.4" y1="399.7" x2="769.9" y2="402.8" stroke="#000" stroke-width="2.2" />
<line x1="767.3" y1="378.2" x2="776.8" y2="381.3" stroke="#000" stroke-width="2.2" />
<ellipse cx="773.4" cy="392" rx="7.5" ry="11.3" fill="#fff" stroke="#000" stroke-width="2.4" transform="rotate(18 773.4 392)" />
<ellipse cx="773.7" cy="392" rx="4.5" ry="7" fill="#fff" stroke="#000" stroke-width="2.0" transform="rotate(18 773.7 392)" />
<ellipse cx="774.6" cy="392.6" rx="2.4" ry="4.1" fill="#fff" stroke="#333" stroke-width="1.0" transform="rotate(18 774.6 392.6)" />
<ellipse cx="762.3" cy="393.5" rx="1.8" ry="2.3" fill="#000" stroke="#000" stroke-width="1.5" transform="rotate(18 762.3 393.5)" />
<ellipse cx="977.5" cy="459.9" rx="7.5" ry="11.3" fill="#fff" stroke="#000" stroke-width="2.2" transform="rotate(18 977.5 459.9)" />
<path d="M974.1 470.6 L983.6 473.7 L990.5 452.2 L981 449.1Z" fill="#fff" stroke="none" stroke-width="0" stroke-linejoin="round" />
<line x1="974.1" y1="470.6" x2="983.6" y2="473.7" stroke="#000" stroke-width="2.2" />
<line x1="981" y1="449.1" x2="990.5" y2="452.2" stroke="#000" stroke-width="2.2" />
<ellipse cx="987.1" cy="462.9" rx="7.5" ry="11.3" fill="#fff" stroke="#000" stroke-width="2.4" transform="rotate(18 987.1 462.9)" />
<ellipse cx="987.4" cy="462.9" rx="4.5" ry="7" fill="#fff" stroke="#000" stroke-width="2.0" transform="rotate(18 987.4 462.9)" />
<ellipse cx="988.3" cy="463.5" rx="2.4" ry="4.1" fill="#fff" stroke="#333" stroke-width="1.0" transform="rotate(18 988.3 463.5)" />
<ellipse cx="976" cy="464.4" rx="1.8" ry="2.3" fill="#000" stroke="#000" stroke-width="1.5" transform="rotate(18 976 464.4)" />
<ellipse cx="1017.6" cy="470.6" rx="12.6" ry="14" fill="none" stroke="#000" stroke-width="1.6" transform="rotate(12 1017.6 470.6)" />
<ellipse cx="1017.6" cy="470.6" rx="10.4" ry="11.8" fill="none" stroke="#222" stroke-width="1.2" transform="rotate(12 1017.6 470.6)" />
<path d="M1011.1 455.1 L1017.1 454.6 L1018.8 462.6 L1012.6 463.6Z" fill="#000" stroke="#000" stroke-width="1.2" stroke-linejoin="round" />
<line x1="1013" y1="460.6" x2="1013" y2="485.6" stroke="#000" stroke-width="1.6" />
<line x1="1016.2" y1="460.6" x2="1016.2" y2="484.6" stroke="#222" stroke-width="1.4" />
<ellipse cx="1014.1" cy="486.1" rx="2.4" ry="1.6" fill="#000" stroke="#000" stroke-width="0.5" />
<path d="M349 337.5 L353 334.6 L359.5 336 L361.8 341 L360.5 346.5 L355.5 348.6 L350 346.6 L348.2 342Z" fill="#000" stroke="#000" stroke-width="1.2" stroke-linejoin="round" />
<ellipse cx="356" cy="341" rx="2.6" ry="3.2" fill="#fff" stroke="#000" stroke-width="0.4" transform="rotate(18 356 341)" />
<ellipse cx="356.3" cy="341.2" rx="1.2" ry="1.6" fill="#000" stroke="#000" stroke-width="0.3" transform="rotate(18 356.3 341.2)" />
<ellipse cx="377.8" cy="351.2" rx="8.6" ry="11.8" fill="#fff" stroke="#000" stroke-width="2.0" transform="rotate(18 377.8 351.2)" />
<ellipse cx="378.1" cy="351.2" rx="3" ry="3.6" fill="#000" stroke="#000" stroke-width="1.8" transform="rotate(18 378.1 351.2)" />
<ellipse cx="403.8" cy="359.5" rx="11.4" ry="15.2" fill="#000" stroke="#000" stroke-width="2.2" transform="rotate(18 403.8 359.5)" />
<ellipse cx="407.2" cy="360.7" rx="10.4" ry="14.2" fill="#fff" stroke="#000" stroke-width="2.0" transform="rotate(18 407.2 360.7)" />
<ellipse cx="407.6" cy="360.8" rx="5.6" ry="7.6" fill="#fff" stroke="#000" stroke-width="1.6" transform="rotate(18 407.6 360.8)" />
<ellipse cx="408" cy="361" rx="2.4" ry="3.2" fill="#fff" stroke="#000" stroke-width="1.4" transform="rotate(18 408 361)" />
<line x1="400" y1="353.3" x2="401" y2="369.3" stroke="#444" stroke-width="1.0" />
<path d="M433.5 363.6 L546.8 403.2 L543.2 415.2 L430.8 374.5Z" fill="#fff" stroke="none" stroke-width="0" stroke-linejoin="round" />
<path d="M433.5 363.8 L471 377 L468 387.5 L431 374.6 L429 369.5 L430.5 365Z" fill="#000" stroke="#000" stroke-width="2.0" stroke-linejoin="round" />
<line x1="439" y1="366.8" x2="468" y2="377" stroke="#fff" stroke-width="0.5" />
<line x1="439.3" y1="369" x2="468.3" y2="379.2" stroke="#fff" stroke-width="0.5" />
<line x1="439.6" y1="371.2" x2="468.6" y2="381.4" stroke="#fff" stroke-width="0.5" />
<line x1="439.9" y1="373.4" x2="468.9" y2="383.6" stroke="#fff" stroke-width="0.5" />
<path d="M466 375.2 L546 403.2" fill="none" stroke="#000" stroke-width="2.4" stroke-linejoin="round" stroke-linecap="round" />
<path d="M462 385.6 L542.5 414.6" fill="none" stroke="#000" stroke-width="2.6" stroke-linejoin="round" stroke-linecap="round" />
<line x1="470" y1="382.5" x2="480" y2="386.1" stroke="#333" stroke-width="0.9" />
<line x1="497" y1="392.2" x2="507" y2="395.8" stroke="#333" stroke-width="0.9" />
<line x1="520" y1="400.3" x2="530" y2="403.9" stroke="#333" stroke-width="0.9" />
<path d="M537.5 400.6 L546.5 403.6 L549.8 406.5 L550 411 L547.5 414.8 L543 416 L534 412.5Z" fill="#000" stroke="#000" stroke-width="1.4" stroke-linejoin="round" />
<ellipse cx="541.5" cy="407.5" rx="2.4" ry="4.6" fill="#fff" stroke="#000" stroke-width="0.4" transform="rotate(18 541.5 407.5)" />
<path d="M150.1 325.2 L201.1 348.6 L304.5 321.3 L340.4 336.7" fill="none" stroke="#ed1c24" stroke-width="2.4" stroke-linejoin="round" stroke-linecap="round" />
<path d="M425.9 419.5 L388.2 451 L360.2 455.7" fill="none" stroke="#ed1c24" stroke-width="2.4" stroke-linejoin="round" stroke-linecap="round" />
<ellipse cx="666" cy="452.2" rx="11.4" ry="15.2" fill="#000" stroke="#000" stroke-width="2.2" transform="rotate(18 666 452.2)" />
<ellipse cx="669.4" cy="453.4" rx="10.4" ry="14.2" fill="#fff" stroke="#000" stroke-width="2.0" transform="rotate(18 669.4 453.4)" />
<ellipse cx="669.8" cy="453.5" rx="5.6" ry="7.6" fill="#fff" stroke="#000" stroke-width="1.6" transform="rotate(18 669.8 453.5)" />
<ellipse cx="670.2" cy="453.7" rx="2.4" ry="3.2" fill="#fff" stroke="#000" stroke-width="1.4" transform="rotate(18 670.2 453.7)" />
<line x1="662.2" y1="446" x2="663.2" y2="462" stroke="#444" stroke-width="1.0" />
<ellipse cx="695.5" cy="462.3" rx="7.8" ry="9.6" fill="#fff" stroke="#000" stroke-width="2.0" transform="rotate(18 695.5 462.3)" />
<ellipse cx="695.8" cy="462.3" rx="3.4" ry="4.4" fill="#fff" stroke="#000" stroke-width="1.5" transform="rotate(18 695.8 462.3)" />
<ellipse cx="696.4" cy="462" rx="1.5" ry="2" fill="#000" stroke="#000" stroke-width="0.3" transform="rotate(18 696.4 462)" />
<ellipse cx="711.7" cy="466.8" rx="4.2" ry="4.8" fill="#000" stroke="#000" stroke-width="1" transform="rotate(18 711.7 466.8)" />
<ellipse cx="724.1" cy="471.5" rx="3" ry="3.4" fill="#000" stroke="#000" stroke-width="1.9" transform="rotate(18 724.1 471.5)" />
<path d="M724.5 468.5 L729.2 470.4 L727.8 477.4 L723.2 474.9Z" fill="#000" stroke="#000" stroke-width="0.8" stroke-linejoin="round" />
<ellipse cx="723.9" cy="471.5" rx="1.2" ry="1.6" fill="#fff" stroke="#000" stroke-width="0.3" transform="rotate(18 723.9 471.5)" />
<ellipse cx="730.2" cy="474" rx="4" ry="4.8" fill="#fff" stroke="#000" stroke-width="3.23" transform="rotate(18 730.2 474)" />
<ellipse cx="730.5" cy="474.2" rx="1.1" ry="1.5" fill="#fff" stroke="#000" stroke-width="0.8" transform="rotate(18 730.5 474.2)" />
<path d="M205.2 411.3 A9.6 12.8 18 1 1 203.4 425.2" fill="none" stroke="#000" stroke-width="3.2" stroke-linecap="round"/>
<path d="M228.6 414.6 L251.3 405.8 L262 407.2 L267.6 409.4 L269.8 423.3 L267.6 438.6 L258 447 L251.3 452.6 L231.2 459.2 L227.4 455.6Z" fill="#fff" stroke="#000" stroke-width="2.8" stroke-linejoin="round" />
<path d="M261.6 407.2 L267.6 409.4 L269.8 423.3 L267.6 438.6 L258 447 L262.4 437 L263.6 421Z" fill="#000" stroke="#000" stroke-width="1.2" stroke-linejoin="round" />
<ellipse cx="266.2" cy="412.5" rx="1.5" ry="2.6" fill="#fff" stroke="none" stroke-width="0" transform="rotate(8 266.2 412.5)" />
<ellipse cx="265.8" cy="424.5" rx="1.5" ry="2.6" fill="#fff" stroke="none" stroke-width="0" transform="rotate(8 265.8 424.5)" />
<ellipse cx="265.5" cy="434.5" rx="1.5" ry="2.6" fill="#fff" stroke="none" stroke-width="0" transform="rotate(8 265.5 434.5)" />
<ellipse cx="245.2" cy="428.8" rx="12.2" ry="18.2" fill="#fff" stroke="#000" stroke-width="3.2" transform="rotate(18 245.2 428.8)" />
<ellipse cx="246" cy="429.2" rx="10.2" ry="16" fill="none" stroke="#444" stroke-width="0.9" transform="rotate(18 246 429.2)" />
<ellipse cx="232.6" cy="416.5" rx="1.3" ry="1.7" fill="#000" stroke="#000" stroke-width="0.5" transform="rotate(18 232.6 416.5)" />
<ellipse cx="264.8" cy="412.6" rx="1.3" ry="1.7" fill="#000" stroke="#000" stroke-width="0.5" transform="rotate(18 264.8 412.6)" />
<ellipse cx="232.5" cy="454.6" rx="1.3" ry="1.7" fill="#000" stroke="#000" stroke-width="0.5" transform="rotate(18 232.5 454.6)" />
<ellipse cx="264.6" cy="436.6" rx="1.3" ry="1.7" fill="#000" stroke="#000" stroke-width="0.5" transform="rotate(18 264.6 436.6)" />
<ellipse cx="290.5" cy="443.6" rx="16.2" ry="20.6" fill="#fff" stroke="#000" stroke-width="2.4" transform="rotate(18 290.5 443.6)" />
<ellipse cx="295.3" cy="445.4" rx="16.2" ry="20.8" fill="#000" stroke="#000" stroke-width="2.4" transform="rotate(18 295.3 445.4)" />
<ellipse cx="295.6" cy="445.6" rx="7.6" ry="12.2" fill="#fff" stroke="#000" stroke-width="1.4" transform="rotate(18 295.6 445.6)" />
<ellipse cx="296.2" cy="445.8" rx="4.6" ry="9" fill="#fff" stroke="#000" stroke-width="2.2" transform="rotate(18 296.2 445.8)" />
<path d="M321 448 L343.7 439.2 L354.4 440.6 L360 442.8 L362.2 456.7 L360 472 L350.4 480.4 L343.7 486 L323.6 492.6 L319.8 489Z" fill="#fff" stroke="#000" stroke-width="2.8" stroke-linejoin="round" />
<path d="M354 440.6 L360 442.8 L362.2 456.7 L360 472 L350.4 480.4 L354.8 470.4 L356 454.4Z" fill="#000" stroke="#000" stroke-width="1.2" stroke-linejoin="round" />
<ellipse cx="358.6" cy="445.9" rx="1.5" ry="2.6" fill="#fff" stroke="none" stroke-width="0" transform="rotate(8 358.6 445.9)" />
<ellipse cx="358.2" cy="457.9" rx="1.5" ry="2.6" fill="#fff" stroke="none" stroke-width="0" transform="rotate(8 358.2 457.9)" />
<ellipse cx="357.9" cy="467.9" rx="1.5" ry="2.6" fill="#fff" stroke="none" stroke-width="0" transform="rotate(8 357.9 467.9)" />
<ellipse cx="337.6" cy="462.2" rx="12.2" ry="18.2" fill="#fff" stroke="#000" stroke-width="3.2" transform="rotate(18 337.6 462.2)" />
<ellipse cx="338.4" cy="462.6" rx="10.2" ry="16" fill="none" stroke="#444" stroke-width="0.9" transform="rotate(18 338.4 462.6)" />
<ellipse cx="325" cy="449.9" rx="1.3" ry="1.7" fill="#000" stroke="#000" stroke-width="0.5" transform="rotate(18 325 449.9)" />
<ellipse cx="357.2" cy="446" rx="1.3" ry="1.7" fill="#000" stroke="#000" stroke-width="0.5" transform="rotate(18 357.2 446)" />
<ellipse cx="324.9" cy="488" rx="1.3" ry="1.7" fill="#000" stroke="#000" stroke-width="0.5" transform="rotate(18 324.9 488)" />
<ellipse cx="357" cy="470" rx="1.3" ry="1.7" fill="#000" stroke="#000" stroke-width="0.5" transform="rotate(18 357 470)" />
<ellipse cx="377.6" cy="478.6" rx="8" ry="13.6" fill="#000" stroke="#000" stroke-width="2.4" transform="rotate(18 377.6 478.6)" />
<path d="M375.1 465.4 L393.6 470.9 L386.6 496.4 L369.6 490.9Z" fill="#000" stroke="#000" stroke-width="1.5" stroke-linejoin="round" />
<ellipse cx="395.1" cy="484.6" rx="11.8" ry="17.4" fill="#000" stroke="#000" stroke-width="2.2" transform="rotate(18 395.1 484.6)" />
<ellipse cx="398.2" cy="485.6" rx="10.8" ry="16.2" fill="#fff" stroke="#000" stroke-width="2.2" transform="rotate(18 398.2 485.6)" />
<line x1="380.6" y1="473.4" x2="381.8" y2="477.6" stroke="#fff" stroke-width="1.5" />
<line x1="384.6" y1="473.9" x2="385.8" y2="478.1" stroke="#fff" stroke-width="1.5" />
<line x1="379.6" y1="480.4" x2="380.8" y2="484.6" stroke="#fff" stroke-width="1.5" />
<line x1="384.1" y1="481.4" x2="385.3" y2="485.6" stroke="#fff" stroke-width="1.5" />
<line x1="379.1" y1="487.4" x2="380.3" y2="491.6" stroke="#fff" stroke-width="1.5" />
<line x1="383.6" y1="488.4" x2="384.8" y2="492.6" stroke="#fff" stroke-width="1.5" />
<ellipse cx="398.4" cy="485.8" rx="6.6" ry="10.6" fill="#000" stroke="#000" stroke-width="1.2" transform="rotate(18 398.4 485.8)" />
<path d="M397.6 480.6 L401.8 482 L401 484.2 L397 482.8Z" fill="#fff" stroke="none" stroke-width="0" stroke-linejoin="round" />
<path d="M396.4 486.6 L400.6 488 L399.8 490.2 L395.8 488.8Z" fill="#fff" stroke="none" stroke-width="0" stroke-linejoin="round" />
<ellipse cx="441.2" cy="498.9" rx="26.4" ry="37.2" fill="#fff" stroke="#000" stroke-width="1.6" transform="rotate(18 441.2 498.9)" />
<ellipse cx="442.6" cy="499.4" rx="26.4" ry="37.2" fill="#fff" stroke="#000" stroke-width="2.2" transform="rotate(18 442.6 499.4)" />
<ellipse cx="443.4" cy="499.7" rx="21.9" ry="31.6" fill="none" stroke="#333" stroke-width="1.0" transform="rotate(18 443.4 499.7)" />
<ellipse cx="443.4" cy="499.7" rx="20.6" ry="29.8" fill="none" stroke="#888" stroke-width="0.7" transform="rotate(18 443.4 499.7)" />
<ellipse cx="453.7" cy="478.5" rx="2" ry="2.5" fill="#000" stroke="#000" stroke-width="0.4" transform="rotate(18 453.7 478.5)" />
<ellipse cx="460.8" cy="497.6" rx="2" ry="2.5" fill="#000" stroke="#000" stroke-width="0.4" transform="rotate(18 460.8 497.6)" />
<ellipse cx="450.2" cy="518.6" rx="2" ry="2.5" fill="#000" stroke="#000" stroke-width="0.4" transform="rotate(18 450.2 518.6)" />
<ellipse cx="432.7" cy="520.7" rx="2" ry="2.5" fill="#000" stroke="#000" stroke-width="0.4" transform="rotate(18 432.7 520.7)" />
<ellipse cx="425.6" cy="501.6" rx="2" ry="2.5" fill="#000" stroke="#000" stroke-width="0.4" transform="rotate(18 425.6 501.6)" />
<ellipse cx="436.2" cy="480.6" rx="2" ry="2.5" fill="#000" stroke="#000" stroke-width="0.4" transform="rotate(18 436.2 480.6)" />
<ellipse cx="442.2" cy="499.2" rx="13.2" ry="18.2" fill="#000" stroke="#000" stroke-width="1.6" transform="rotate(18 442.2 499.2)" />
<ellipse cx="443.4" cy="499.6" rx="7.9" ry="11.9" fill="#fff" stroke="#000" stroke-width="1.2" transform="rotate(18 443.4 499.6)" />
<ellipse cx="506.8" cy="521.8" rx="28.6" ry="41" fill="#fff" stroke="#000" stroke-width="2.2" transform="rotate(18 506.8 521.8)" />
<ellipse cx="509.2" cy="522.8" rx="28.2" ry="40.6" fill="#000" stroke="#000" stroke-width="2.4" transform="rotate(18 509.2 522.8)" />
<ellipse cx="510.4" cy="523" rx="20.4" ry="31.2" fill="#fff" stroke="#000" stroke-width="1.6" transform="rotate(18 510.4 523)" />
<ellipse cx="509.4" cy="522.6" rx="25" ry="37" fill="none" stroke="#fff" stroke-width="0.8" transform="rotate(18 509.4 522.6)" />
<ellipse cx="566.2" cy="541.3" rx="26" ry="37.4" fill="#fff" stroke="#000" stroke-width="1.6" transform="rotate(18 566.2 541.3)" />
<ellipse cx="567.6" cy="541.8" rx="26" ry="37.4" fill="#fff" stroke="#000" stroke-width="2.2" transform="rotate(18 567.6 541.8)" />
<ellipse cx="568.4" cy="542.1" rx="21.6" ry="31.8" fill="none" stroke="#333" stroke-width="1.0" transform="rotate(18 568.4 542.1)" />
<ellipse cx="568.4" cy="542.1" rx="20.3" ry="29.9" fill="none" stroke="#888" stroke-width="0.7" transform="rotate(18 568.4 542.1)" />
<ellipse cx="578.7" cy="520.8" rx="2" ry="2.5" fill="#000" stroke="#000" stroke-width="0.4" transform="rotate(18 578.7 520.8)" />
<ellipse cx="585.5" cy="539.9" rx="2" ry="2.5" fill="#000" stroke="#000" stroke-width="0.4" transform="rotate(18 585.5 539.9)" />
<ellipse cx="575" cy="561.1" rx="2" ry="2.5" fill="#000" stroke="#000" stroke-width="0.4" transform="rotate(18 575 561.1)" />
<ellipse cx="557.7" cy="563.2" rx="2" ry="2.5" fill="#000" stroke="#000" stroke-width="0.4" transform="rotate(18 557.7 563.2)" />
<ellipse cx="550.9" cy="544.1" rx="2" ry="2.5" fill="#000" stroke="#000" stroke-width="0.4" transform="rotate(18 550.9 544.1)" />
<ellipse cx="561.4" cy="522.9" rx="2" ry="2.5" fill="#000" stroke="#000" stroke-width="0.4" transform="rotate(18 561.4 522.9)" />
<ellipse cx="567.2" cy="541.6" rx="13" ry="18.3" fill="#000" stroke="#000" stroke-width="1.6" transform="rotate(18 567.2 541.6)" />
<ellipse cx="568.4" cy="542" rx="7.8" ry="12" fill="#fff" stroke="#000" stroke-width="1.2" transform="rotate(18 568.4 542)" />
<ellipse cx="602.6" cy="531.7" rx="3.4" ry="3.8" fill="#000" stroke="#000" stroke-width="0.6" transform="rotate(18 602.6 531.7)" />
<ellipse cx="599" cy="556.8" rx="3.4" ry="3.8" fill="#000" stroke="#000" stroke-width="0.6" transform="rotate(18 599 556.8)" />
<ellipse cx="583.2" cy="579.1" rx="3.4" ry="3.8" fill="#000" stroke="#000" stroke-width="0.6" transform="rotate(18 583.2 579.1)" />
<ellipse cx="612" cy="536.1" rx="2.6" ry="3" fill="#000" stroke="#000" stroke-width="1.64" transform="rotate(18 612 536.1)" />
<path d="M612.3 533.4 L616.4 535.1 L615.2 541.2 L611.1 539Z" fill="#000" stroke="#000" stroke-width="0.8" stroke-linejoin="round" />
<ellipse cx="611.8" cy="536.1" rx="1.1" ry="1.4" fill="#fff" stroke="#000" stroke-width="0.3" transform="rotate(18 611.8 536.1)" />
<ellipse cx="617.2" cy="538.2" rx="3.4" ry="4.1" fill="#fff" stroke="#000" stroke-width="2.788" transform="rotate(18 617.2 538.2)" />
<ellipse cx="617.4" cy="538.4" rx="1" ry="1.3" fill="#fff" stroke="#000" stroke-width="0.8" transform="rotate(18 617.4 538.4)" />
<ellipse cx="607.8" cy="560.3" rx="2.6" ry="3" fill="#000" stroke="#000" stroke-width="1.64" transform="rotate(18 607.8 560.3)" />
<path d="M608.1 557.6 L612.2 559.3 L611 565.4 L606.9 563.2Z" fill="#000" stroke="#000" stroke-width="0.8" stroke-linejoin="round" />
<ellipse cx="607.6" cy="560.3" rx="1.1" ry="1.4" fill="#fff" stroke="#000" stroke-width="0.3" transform="rotate(18 607.6 560.3)" />
<ellipse cx="613" cy="562.4" rx="3.4" ry="4.1" fill="#fff" stroke="#000" stroke-width="2.788" transform="rotate(18 613 562.4)" />
<ellipse cx="613.2" cy="562.6" rx="1" ry="1.3" fill="#fff" stroke="#000" stroke-width="0.8" transform="rotate(18 613.2 562.6)" />
<ellipse cx="594.8" cy="585.5" rx="2.6" ry="3" fill="#000" stroke="#000" stroke-width="1.64" transform="rotate(18 594.8 585.5)" />
<path d="M595.1 582.8 L599.2 584.5 L598 590.6 L593.9 588.4Z" fill="#000" stroke="#000" stroke-width="0.8" stroke-linejoin="round" />
<ellipse cx="594.6" cy="585.5" rx="1.1" ry="1.4" fill="#fff" stroke="#000" stroke-width="0.3" transform="rotate(18 594.6 585.5)" />
<ellipse cx="600" cy="587.6" rx="3.4" ry="4.1" fill="#fff" stroke="#000" stroke-width="2.788" transform="rotate(18 600 587.6)" />
<ellipse cx="600.2" cy="587.8" rx="1" ry="1.3" fill="#fff" stroke="#000" stroke-width="0.8" transform="rotate(18 600.2 587.8)" />
<ellipse cx="85.5" cy="537.6" rx="9.6" ry="10.4" fill="#fff" stroke="#000" stroke-width="2.8" transform="rotate(25 85.5 537.6)" />
<ellipse cx="85.9" cy="537.9" rx="5.6" ry="6.2" fill="#fff" stroke="#000" stroke-width="1.6" transform="rotate(25 85.9 537.9)" />
<ellipse cx="86.2" cy="538.1" rx="2.4" ry="2.8" fill="#fff" stroke="#000" stroke-width="1.3" transform="rotate(25 86.2 538.1)" />
<ellipse cx="105.5" cy="555" rx="7.4" ry="9.6" fill="#fff" stroke="#000" stroke-width="2.2" transform="rotate(38 105.5 555)" />
<path d="M99.6 562.6 L105.7 567.4 L117.5 552.3 L111.4 547.4Z" fill="#fff" stroke="none" stroke-width="0" stroke-linejoin="round" />
<line x1="99.6" y1="562.6" x2="105.7" y2="567.4" stroke="#000" stroke-width="2.2" />
<line x1="111.4" y1="547.4" x2="117.5" y2="552.3" stroke="#000" stroke-width="2.2" />
<ellipse cx="111.6" cy="559.8" rx="7.6" ry="9.8" fill="#000" stroke="#000" stroke-width="2.4" transform="rotate(38 111.6 559.8)" />
<ellipse cx="112.1" cy="560.1" rx="3.4" ry="4.6" fill="#fff" stroke="#000" stroke-width="1.0" transform="rotate(38 112.1 560.1)" />
<line x1="104.5" y1="549.5" x2="109" y2="553" stroke="#333" stroke-width="1.0" />
<ellipse cx="132.2" cy="537.4" rx="4" ry="4.6" fill="#fff" stroke="#000" stroke-width="2.0" />
<ellipse cx="131.4" cy="538.4" rx="1.4" ry="1.8" fill="none" stroke="#000" stroke-width="0.8" />
<line x1="132.6" y1="542" x2="133.4" y2="553" stroke="#000" stroke-width="2.2" />
<line x1="136" y1="546.5" x2="136" y2="552.5" stroke="#000" stroke-width="0.9" />
<g stroke-linejoin="round">
<path d="M120.2 569.5 L125.5 565.2 L133.5 571.5 L128 577.5 L122 575.5Z" fill="#fff" stroke="#000" stroke-width="2.0" stroke-linejoin="round" />
<path d="M130.6 601 L141 598 L213 652 L232 651 L232 750.5 L222 754 L221.5 737.5 L213.5 736.5 L146 683.5 L145 689 L139.5 693 L133.5 690 L131 682Z" fill="#fff" stroke="#000" stroke-width="2.2" stroke-linejoin="round" />
<path d="M145.5 681.6 L213.5 735.2" fill="none" stroke="#000" stroke-width="4.6" stroke-linejoin="round" stroke-linecap="butt" />
<line x1="130.8" y1="600" x2="130.8" y2="674" stroke="#000" stroke-width="2.4" />
<ellipse cx="139.8" cy="684.6" rx="3.4" ry="4.4" fill="#fff" stroke="#000" stroke-width="2.4" transform="rotate(30 139.8 684.6)" />
<path d="M131.4 672 L132.2 684 L135 691.2 L140.5 693.4 L146 690.5" fill="none" stroke="#000" stroke-width="2.2" stroke-linejoin="round" stroke-linecap="round" />
<line x1="211.6" y1="660" x2="211.6" y2="735.5" stroke="#000" stroke-width="2.2" />
<line x1="218.2" y1="662" x2="218.2" y2="737" stroke="#000" stroke-width="2.0" />
<line x1="231.8" y1="656" x2="231.8" y2="750.5" stroke="#000" stroke-width="2.2" />
<path d="M141.5 601.5 L213 654.5" fill="none" stroke="#000" stroke-width="2.2" stroke-linejoin="round" stroke-linecap="round" />
<path d="M138 607.5 L207 658.8" fill="none" stroke="#000" stroke-width="3.6" stroke-linejoin="round" stroke-linecap="butt" />
<path d="M146 598.5 L216 650.2" fill="none" stroke="#000" stroke-width="1.4" stroke-linejoin="round" stroke-linecap="round" />
<path d="M154.6 629.6 L159 631 L183.5 649.5 L187.5 656 L203.6 716.5 L201.5 721.8 L196.5 722.6 L143.6 672.5 L141.2 666 L151 633Z" fill="#fff" stroke="#000" stroke-width="2.4" stroke-linejoin="round" />
<path d="M156.4 636 L160.2 636.6 L180.4 652.6 L183.6 658 L198.2 712.8 L196.6 715.6 L147.8 669.6 L146.2 665.2Z" fill="#fff" stroke="#000" stroke-width="2.0" stroke-linejoin="round" />
<ellipse cx="169.2" cy="668.2" rx="8.2" ry="16.2" fill="#fff" stroke="#000" stroke-width="3.0" transform="rotate(-8 169.2 668.2)" />
<ellipse cx="171.6" cy="667.2" rx="4.8" ry="12.4" fill="none" stroke="#000" stroke-width="1.2" transform="rotate(-8 171.6 667.2)" />
<path d="M146.5 571.2 L220.5 637.5 L212.5 650 L136.5 588.5Z" fill="#fff" stroke="none" stroke-width="0" stroke-linejoin="round" />
<path d="M146.2 571.6 L219 636.8" fill="none" stroke="#000" stroke-width="2.6" stroke-linejoin="round" stroke-linecap="round" />
<path d="M136.8 587.6 L209 647.6" fill="none" stroke="#000" stroke-width="2.6" stroke-linejoin="round" stroke-linecap="round" />
<path d="M143.5 596.6 A12.2 12.8 0 1 1 148.4 573.2" fill="none" stroke="#000" stroke-width="3.4"/>
<path d="M142.6 589.6 A7 8 0 0 1 146 573" fill="none" stroke="#000" stroke-width="2"/>
<path d="M143.5 596.4 L139.5 597.2 L138.6 601.2" fill="none" stroke="#000" stroke-width="2.4" stroke-linejoin="round" stroke-linecap="round" />
<path d="M218.6 661.2 A11.6 12.6 0 1 1 229 640" fill="#fff" stroke="#000" stroke-width="3.2"/>
<path d="M218.6 642.6 L234.5 651.2 L231.6 662.5 L214.8 654.6Z" fill="#fff" stroke="none" stroke-width="0" stroke-linejoin="round" />
<path d="M218.8 642.2 L235 650.6" fill="none" stroke="#000" stroke-width="2.2" stroke-linejoin="round" stroke-linecap="round" />
<path d="M215.2 654.8 L229.5 662.2" fill="none" stroke="#000" stroke-width="2.2" stroke-linejoin="round" stroke-linecap="round" />
<ellipse cx="218.6" cy="648.6" rx="3.6" ry="6.2" fill="#fff" stroke="#000" stroke-width="1.8" transform="rotate(25 218.6 648.6)" />
<ellipse cx="232.8" cy="656.4" rx="4" ry="6" fill="#fff" stroke="#000" stroke-width="2.2" transform="rotate(25 232.8 656.4)" />
</g>
<path d="M110.2 676.2 L116.5 673.2 L123.2 675.6 L124.2 684.6 L121.2 690.2 L114.6 691.6 L110.6 686.2Z" fill="#000" stroke="#000" stroke-width="1.4" stroke-linejoin="round" />
<ellipse cx="119.6" cy="682.4" rx="2.6" ry="5.2" fill="#fff" stroke="#000" stroke-width="0.6" transform="rotate(10 119.6 682.4)" />
<line x1="131.6" y1="719.2" x2="117.2" y2="744.4" stroke="#000" stroke-width="7.6" stroke-linecap="round"/>
<line x1="116.6" y1="745.6" x2="113.2" y2="748.8" stroke="#000" stroke-width="3.6" stroke-linecap="round"/>
<line x1="133.2" y1="716.2" x2="134.6" y2="714.2" stroke="#000" stroke-width="3.0" stroke-linecap="round"/>
<ellipse cx="264.1" cy="648.3" rx="9.4" ry="18.8" fill="#fff" stroke="#000" stroke-width="2.2" transform="rotate(-19 264.1 648.3)" />
<path d="M270.3 666.1 L261.9 668.9 L249.7 633.4 L258 630.5Z" fill="#fff" stroke="none" stroke-width="0" stroke-linejoin="round" />
<line x1="270.3" y1="666.1" x2="261.9" y2="668.9" stroke="#000" stroke-width="2.2" />
<line x1="258" y1="630.5" x2="249.7" y2="633.4" stroke="#000" stroke-width="2.2" />
<ellipse cx="255.8" cy="651.2" rx="9.4" ry="18.8" fill="#000" stroke="#000" stroke-width="2.2" transform="rotate(-19 255.8 651.2)" />
<ellipse cx="256" cy="651.2" rx="2.3" ry="6" fill="#fff" stroke="#000" stroke-width="0.6" transform="rotate(-19 256 651.2)" />
<ellipse cx="296.5" cy="637.2" rx="9.4" ry="18.8" fill="#fff" stroke="#000" stroke-width="2.2" transform="rotate(-19 296.5 637.2)" />
<path d="M302.7 655 L294.3 657.8 L282.1 622.3 L290.4 619.4Z" fill="#fff" stroke="none" stroke-width="0" stroke-linejoin="round" />
<line x1="302.7" y1="655" x2="294.3" y2="657.8" stroke="#000" stroke-width="2.2" />
<line x1="290.4" y1="619.4" x2="282.1" y2="622.3" stroke="#000" stroke-width="2.2" />
<ellipse cx="288.2" cy="640.1" rx="9.4" ry="18.8" fill="#000" stroke="#000" stroke-width="2.2" transform="rotate(-19 288.2 640.1)" />
<ellipse cx="288.4" cy="640.1" rx="2.3" ry="6" fill="#fff" stroke="#000" stroke-width="0.6" transform="rotate(-19 288.4 640.1)" />
<path d="M311 623.6 L317 619.6 L321.8 621.6 L325.6 618.6 L331 621 L333.6 636.6 L329.6 640.4 L322.4 638.6 L318.2 640.2 L312.6 636.6Z" fill="#000" stroke="#000" stroke-width="1.4" stroke-linejoin="round" />
<path d="M326.6 622.2 L340.4 617.8 L345 633.2 L331.4 638.2Z" fill="#fff" stroke="#000" stroke-width="2.2" stroke-linejoin="round" />
<ellipse cx="342.7" cy="625.4" rx="2.6" ry="8.2" fill="#000" stroke="#000" stroke-width="1.8" transform="rotate(-19 342.7 625.4)" />
<g>
<ellipse cx="399.2" cy="616" rx="32.1" ry="65" fill="#000" stroke="#000" stroke-width="2.0" transform="rotate(-16 399.2 616)" />
<path d="M365.5 554.6 L381.1 553 L417.3 679 L401.7 680.6Z" fill="#000" stroke="#000" stroke-width="1.5" stroke-linejoin="round" />
<line x1="407.1" y1="576.3" x2="412.6" y2="575.9" stroke="#fff" stroke-width="0.8" />
<line x1="408.7" y1="578.9" x2="414.2" y2="578.5" stroke="#fff" stroke-width="0.8" />
<line x1="410.3" y1="581.6" x2="415.8" y2="581.2" stroke="#fff" stroke-width="0.8" />
<line x1="411.8" y1="584.4" x2="417.3" y2="584" stroke="#fff" stroke-width="0.8" />
<line x1="413.3" y1="587.3" x2="418.8" y2="586.9" stroke="#fff" stroke-width="0.8" />
<line x1="414.7" y1="590.3" x2="420.2" y2="589.8" stroke="#fff" stroke-width="0.8" />
<line x1="416" y1="593.3" x2="421.5" y2="592.8" stroke="#fff" stroke-width="0.8" />
<line x1="417.3" y1="596.4" x2="422.8" y2="595.9" stroke="#fff" stroke-width="0.8" />
<line x1="418.5" y1="599.6" x2="424" y2="599.1" stroke="#fff" stroke-width="0.8" />
<line x1="419.6" y1="602.8" x2="425.1" y2="602.2" stroke="#fff" stroke-width="1.1" />
<line x1="420.7" y1="606" x2="426.1" y2="605.5" stroke="#fff" stroke-width="1.1" />
<line x1="421.6" y1="609.3" x2="427.1" y2="608.7" stroke="#fff" stroke-width="1.1" />
<line x1="422.5" y1="612.6" x2="427.9" y2="612" stroke="#fff" stroke-width="1.1" />
<line x1="423.3" y1="615.9" x2="428.7" y2="615.3" stroke="#fff" stroke-width="1.1" />
<line x1="424" y1="619.2" x2="429.4" y2="618.6" stroke="#fff" stroke-width="1.1" />
<line x1="424.6" y1="622.5" x2="430" y2="621.9" stroke="#fff" stroke-width="1.1" />
<line x1="425.1" y1="625.8" x2="430.5" y2="625.2" stroke="#fff" stroke-width="0.8" />
<line x1="425.5" y1="629.1" x2="430.9" y2="628.4" stroke="#fff" stroke-width="0.8" />
<line x1="425.8" y1="632.3" x2="431.2" y2="631.6" stroke="#fff" stroke-width="0.8" />
<line x1="426" y1="635.5" x2="431.4" y2="634.8" stroke="#fff" stroke-width="0.8" />
<line x1="426.1" y1="638.6" x2="431.6" y2="637.9" stroke="#fff" stroke-width="0.8" />
<line x1="426.2" y1="641.7" x2="431.6" y2="641" stroke="#fff" stroke-width="0.8" />
<line x1="426.1" y1="644.7" x2="431.5" y2="644" stroke="#fff" stroke-width="0.8" />
<line x1="425.9" y1="647.7" x2="431.3" y2="646.9" stroke="#fff" stroke-width="0.8" />
<ellipse cx="383.6" cy="617.6" rx="32.1" ry="65.5" fill="#fff" stroke="#000" stroke-width="2.4" transform="rotate(-16 383.6 617.6)" />
<ellipse cx="386.5" cy="617.9" rx="24.7" ry="47.2" fill="#fff" stroke="#000" stroke-width="3.0" transform="rotate(-16 386.5 617.9)" />
<ellipse cx="388.2" cy="617.8" rx="21" ry="42.5" fill="#fff" stroke="#000" stroke-width="1.8" transform="rotate(-16 388.2 617.8)" />
<line x1="381.7" y1="602.5" x2="371.9" y2="579.6" stroke="#000" stroke-width="2.2" />
<line x1="385.3" y1="601.3" x2="381" y2="576.6" stroke="#000" stroke-width="2.2" />
<line x1="391.4" y1="605.5" x2="396.3" y2="587.1" stroke="#000" stroke-width="2.2" />
<line x1="397.5" y1="626" x2="411.5" y2="638.3" stroke="#000" stroke-width="2.2" />
<line x1="394.7" y1="633.1" x2="404.5" y2="656" stroke="#000" stroke-width="2.2" />
<line x1="391.1" y1="634.3" x2="395.4" y2="659" stroke="#000" stroke-width="2.2" />
<line x1="384.6" y1="629.7" x2="379.3" y2="647.6" stroke="#000" stroke-width="2.2" />
<line x1="378.9" y1="609.6" x2="364.9" y2="597.3" stroke="#000" stroke-width="2.2" />
<path d="M377.6 600.1 L407.1 594.6 L409.1 622.6 L392.6 632.2 L379.6 631.6Z" fill="#fff" stroke="#000" stroke-width="2.4" stroke-linejoin="round" />
<ellipse cx="380.2" cy="618.2" rx="11.4" ry="17.8" fill="#fff" stroke="#000" stroke-width="2.8" transform="rotate(-16 380.2 618.2)" />
<ellipse cx="379.2" cy="618.4" rx="6.6" ry="11.4" fill="#fff" stroke="#000" stroke-width="2.8" transform="rotate(-16 379.2 618.4)" />
<line x1="396.6" y1="608" x2="408.6" y2="604.1" stroke="#000" stroke-width="2.8" />
<ellipse cx="383.4" cy="564.9" rx="3.6" ry="4.5" fill="#000" stroke="#000" stroke-width="0.6" transform="rotate(-16 383.4 564.9)" />
<ellipse cx="355.8" cy="579.5" rx="3.6" ry="4.5" fill="#000" stroke="#000" stroke-width="0.6" transform="rotate(-16 355.8 579.5)" />
<ellipse cx="411.9" cy="602.3" rx="3.6" ry="4.5" fill="#000" stroke="#000" stroke-width="0.6" transform="rotate(-16 411.9 602.3)" />
<ellipse cx="355.8" cy="632.5" rx="3.6" ry="4.5" fill="#000" stroke="#000" stroke-width="0.6" transform="rotate(-16 355.8 632.5)" />
<ellipse cx="411.9" cy="655.7" rx="3.6" ry="4.5" fill="#000" stroke="#000" stroke-width="0.6" transform="rotate(-16 411.9 655.7)" />
<ellipse cx="383.4" cy="670.8" rx="3.6" ry="4.5" fill="#000" stroke="#000" stroke-width="0.6" transform="rotate(-16 383.4 670.8)" />
<ellipse cx="368.6" cy="630.6" rx="2.4" ry="3" fill="#000" stroke="#000" stroke-width="0.6" transform="rotate(-16 368.6 630.6)" />
</g>
<g stroke-linejoin="round">
<path d="M240 678 L255.2 673.5 L277.6 737.2 L262.5 744.4Z" fill="#fff" stroke="#000" stroke-width="2.2" stroke-linejoin="round" />
<line x1="242.6" y1="684.4" x2="257.2" y2="679.8" stroke="#000" stroke-width="1.8" />
<path d="M262.3 744.4 L266 740.6 L334 732.6 L338 736 L292.5 745.6 L291 752.5 L274.5 754.2Z" fill="#fff" stroke="#000" stroke-width="2.2" stroke-linejoin="round" />
<ellipse cx="273.2" cy="743.2" rx="3" ry="2" fill="#000" stroke="#000" stroke-width="0.6" transform="rotate(-10 273.2 743.2)" />
<ellipse cx="291.2" cy="741" rx="2.8" ry="2.2" fill="#000" stroke="#000" stroke-width="0.8" transform="rotate(-10 291.2 741)" />
<path d="M277.6 753.6 L285 752.6 L285.6 757.6 L282.2 760.2 L278.4 758.6Z" fill="#fff" stroke="#000" stroke-width="2.0" stroke-linejoin="round" />
<ellipse cx="281.6" cy="756.6" rx="1.4" ry="1.6" fill="#fff" stroke="#000" stroke-width="1.0" />
<path d="M290.4 746.6 L337.4 735.6 L339.5 766 Q339.8 771.6 334 773.2 L298.6 785.8 Q292.4 787.6 291.8 781 Z" fill="#fff" stroke="#000" stroke-width="2.6"/>
<line x1="291" y1="751.6" x2="337.8" y2="740.8" stroke="#000" stroke-width="1.8" />
<ellipse cx="304" cy="772.4" rx="2.8" ry="3.2" fill="#000" stroke="#000" stroke-width="0.6" />
<ellipse cx="317.4" cy="768.6" rx="5.2" ry="4.2" fill="#fff" stroke="#000" stroke-width="2.0" transform="rotate(-25 317.4 768.6)" />
<ellipse cx="330.9" cy="765.6" rx="2.8" ry="3.2" fill="#000" stroke="#000" stroke-width="0.6" />
<line x1="306" y1="775" x2="316.5" y2="784" stroke="#333" stroke-width="0.8" />
<line x1="333" y1="767.5" x2="338.5" y2="771.5" stroke="#333" stroke-width="0.8" />
</g>
<ellipse cx="348.2" cy="781.2" rx="4.8" ry="5.4" fill="#000" stroke="#000" stroke-width="0.8" transform="rotate(18 348.2 781.2)" />
<path d="M354.5 785.2 L361 783.6 L368.6 786.6 L369.2 794.6 L363 797.2 L356 794Z" fill="#000" stroke="#000" stroke-width="1.2" stroke-linejoin="round" />
<ellipse cx="363.6" cy="791.2" rx="3" ry="3.6" fill="#fff" stroke="#000" stroke-width="0.8" transform="rotate(18 363.6 791.2)" />
<text x="106.7" y="113.8" font-family="'Liberation Sans', sans-serif" font-size="20.7" fill="#ed1c24" stroke="#ed1c24" stroke-width="0.6" stroke-linejoin="round">C</text>
<line x1="357" y1="133.4" x2="297" y2="147.5" stroke="#000" stroke-width="1.15" />
<text x="358" y="141.2" font-family="'Liberation Sans', sans-serif" font-size="20.7" fill="#000" stroke="#000" stroke-width="0.6" stroke-linejoin="round">10</text>
<line x1="485" y1="205.5" x2="489.8" y2="244" stroke="#000" stroke-width="1.15" />
<text x="473.3" y="204.2" font-family="'Liberation Sans', sans-serif" font-size="20.7" fill="#000" stroke="#000" stroke-width="0.6" stroke-linejoin="round">8</text>
<line x1="556" y1="222.5" x2="512" y2="301.5" stroke="#111" stroke-width="0.9" stroke-dasharray="60 3 2 3"/>
<line x1="609.3" y1="140.1" x2="578.5" y2="175.3" stroke="#000" stroke-width="1.15" />
<text x="609.2" y="146" font-family="'Liberation Sans', sans-serif" font-size="20.7" fill="#000" stroke="#000" stroke-width="0.6" stroke-linejoin="round">7</text>
<line x1="607.6" y1="283.8" x2="577" y2="309.5" stroke="#000" stroke-width="1.15" />
<text x="606.3" y="289" font-family="'Liberation Sans', sans-serif" font-size="20.7" fill="#000" stroke="#000" stroke-width="0.6" stroke-linejoin="round">6</text>
<line x1="445" y1="315.4" x2="486" y2="311" stroke="#000" stroke-width="1.15" />
<text x="429.3" y="323" font-family="'Liberation Sans', sans-serif" font-size="20.7" fill="#000" stroke="#000" stroke-width="0.6" stroke-linejoin="round">9</text>
<line x1="707.4" y1="309.5" x2="697.5" y2="353" stroke="#000" stroke-width="1.15" />
<text x="699.2" y="307.7" font-family="'Liberation Sans', sans-serif" font-size="20.7" fill="#000" stroke="#000" stroke-width="0.6" stroke-linejoin="round">5</text>
<line x1="747.9" y1="332.8" x2="727.1" y2="359.9" stroke="#000" stroke-width="1.15" />
<line x1="749.8" y1="332.8" x2="747.9" y2="366.8" stroke="#000" stroke-width="1.15" />
<text x="745.3" y="324.8" font-family="'Liberation Sans', sans-serif" font-size="20.7" fill="#000" stroke="#000" stroke-width="0.6" stroke-linejoin="round">4</text>
<line x1="800.2" y1="326.4" x2="771.5" y2="378.5" stroke="#000" stroke-width="1.15" />
<text x="792.6" y="325.2" font-family="'Liberation Sans', sans-serif" font-size="20.7" fill="#000" stroke="#000" stroke-width="0.6" stroke-linejoin="round">2</text>
<line x1="909.7" y1="261" x2="900.7" y2="314.9" stroke="#000" stroke-width="1.15" />
<text x="903" y="258.7" font-family="'Liberation Sans', sans-serif" font-size="20.7" fill="#000" stroke="#000" stroke-width="0.6" stroke-linejoin="round">3</text>
<line x1="988.1" y1="413.5" x2="982.4" y2="449.8" stroke="#000" stroke-width="1.15" />
<text x="981.4" y="410.8" font-family="'Liberation Sans', sans-serif" font-size="20.7" fill="#000" stroke="#000" stroke-width="0.6" stroke-linejoin="round">2</text>
<line x1="1028.5" y1="417.3" x2="1021.9" y2="454.7" stroke="#000" stroke-width="1.15" />
<text x="1020.9" y="414.8" font-family="'Liberation Sans', sans-serif" font-size="20.7" fill="#000" stroke="#000" stroke-width="0.6" stroke-linejoin="round">1</text>
<line x1="522.8" y1="356.6" x2="499.1" y2="384.6" stroke="#000" stroke-width="1.15" />
<text x="517.9" y="353.7" font-family="'Liberation Sans', sans-serif" font-size="20.7" fill="#000" stroke="#000" stroke-width="0.6" stroke-linejoin="round">14</text>
<line x1="348.3" y1="299.5" x2="353" y2="335" stroke="#000" stroke-width="1.15" />
<text x="332.5" y="298.2" font-family="'Liberation Sans', sans-serif" font-size="20.7" fill="#000" stroke="#000" stroke-width="0.6" stroke-linejoin="round">11</text>
<line x1="369.9" y1="361" x2="362.3" y2="370.6" stroke="#000" stroke-width="1.15" />
<text x="347.7" y="384.2" font-family="'Liberation Sans', sans-serif" font-size="20.7" fill="#000" stroke="#000" stroke-width="0.6" stroke-linejoin="round">12</text>
<line x1="395.7" y1="375" x2="385" y2="395.4" stroke="#000" stroke-width="1.15" />
<text x="379.3" y="410.2" font-family="'Liberation Sans', sans-serif" font-size="20.7" fill="#000" stroke="#000" stroke-width="0.6" stroke-linejoin="round">13</text>
<text x="128" y="325.4" font-family="'Liberation Sans', sans-serif" font-size="20.7" fill="#ed1c24" stroke="#ed1c24" stroke-width="0.6" stroke-linejoin="round">B</text>
<text x="425.7" y="424.7" font-family="'Liberation Sans', sans-serif" font-size="20.7" fill="#ed1c24" stroke="#ed1c24" stroke-width="0.6" stroke-linejoin="round">A</text>
<line x1="631.6" y1="406.9" x2="659.6" y2="441.4" stroke="#000" stroke-width="1.15" />
<text x="619.5" y="402.4" font-family="'Liberation Sans', sans-serif" font-size="20.7" fill="#000" stroke="#000" stroke-width="0.6" stroke-linejoin="round">13</text>
<line x1="683.3" y1="404.8" x2="695.5" y2="454.3" stroke="#000" stroke-width="1.15" />
<text x="675.5" y="404" font-family="'Liberation Sans', sans-serif" font-size="20.7" fill="#000" stroke="#000" stroke-width="0.6" stroke-linejoin="round">15</text>
<line x1="718.8" y1="424.2" x2="713.4" y2="463" stroke="#000" stroke-width="1.15" />
<text x="711.7" y="424.4" font-family="'Liberation Sans', sans-serif" font-size="20.7" fill="#000" stroke="#000" stroke-width="0.6" stroke-linejoin="round">16</text>
<line x1="747.9" y1="444.6" x2="733.9" y2="470.5" stroke="#000" stroke-width="1.15" />
<text x="741.2" y="443.8" font-family="'Liberation Sans', sans-serif" font-size="20.7" fill="#000" stroke="#000" stroke-width="0.6" stroke-linejoin="round">17</text>
<line x1="232" y1="424.5" x2="262" y2="435.5" stroke="#555" stroke-width="0.7" />
<line x1="324" y1="458" x2="352" y2="468.5" stroke="#555" stroke-width="0.7" />
<line x1="178" y1="448" x2="202.8" y2="429.3" stroke="#000" stroke-width="1.15" />
<text x="159.9" y="463.3" font-family="'Liberation Sans', sans-serif" font-size="20.7" fill="#000" stroke="#000" stroke-width="0.6" stroke-linejoin="round">18</text>
<line x1="294.8" y1="376.3" x2="259.9" y2="408.2" stroke="#000" stroke-width="1.15" />
<line x1="296.5" y1="376.3" x2="334.2" y2="436.2" stroke="#000" stroke-width="1.15" />
<text x="289.8" y="371.7" font-family="'Liberation Sans', sans-serif" font-size="20.7" fill="#000" stroke="#000" stroke-width="0.6" stroke-linejoin="round">19</text>
<line x1="241.6" y1="499.7" x2="279.3" y2="461" stroke="#000" stroke-width="1.15" />
<text x="229.5" y="516.2" font-family="'Liberation Sans', sans-serif" font-size="20.7" fill="#000" stroke="#000" stroke-width="0.6" stroke-linejoin="round">20</text>
<line x1="341.7" y1="509.4" x2="367.6" y2="487.9" stroke="#000" stroke-width="1.15" />
<text x="326.4" y="524.7" font-family="'Liberation Sans', sans-serif" font-size="20.7" fill="#000" stroke="#000" stroke-width="0.6" stroke-linejoin="round">21</text>
<line x1="420" y1="492" x2="462" y2="506" stroke="#444" stroke-width="0.7" />
<line x1="492" y1="516.5" x2="536" y2="531.5" stroke="#222" stroke-width="0.9" />
<line x1="548" y1="535.5" x2="598" y2="553" stroke="#444" stroke-width="0.7" />
<line x1="470" y1="440.6" x2="453.4" y2="464.5" stroke="#000" stroke-width="1.15" />
<text x="464" y="440" font-family="'Liberation Sans', sans-serif" font-size="20.7" fill="#000" stroke="#000" stroke-width="0.6" stroke-linejoin="round">22</text>
<line x1="518.7" y1="452.6" x2="511.6" y2="482.8" stroke="#000" stroke-width="1.15" />
<text x="509.2" y="449.5" font-family="'Liberation Sans', sans-serif" font-size="20.7" fill="#000" stroke="#000" stroke-width="0.6" stroke-linejoin="round">23</text>
<line x1="612" y1="498.7" x2="576.7" y2="510.9" stroke="#000" stroke-width="1.15" />
<text x="610.7" y="507.9" font-family="'Liberation Sans', sans-serif" font-size="20.7" fill="#000" stroke="#000" stroke-width="0.6" stroke-linejoin="round">24</text>
<line x1="103.4" y1="495.9" x2="85.1" y2="525.5" stroke="#000" stroke-width="1.15" />
<text x="92.8" y="492.9" font-family="'Liberation Sans', sans-serif" font-size="20.7" fill="#000" stroke="#000" stroke-width="0.6" stroke-linejoin="round">28</text>
<line x1="140.4" y1="500.9" x2="108.5" y2="546.2" stroke="#000" stroke-width="1.15" />
<text x="140.4" y="507.8" font-family="'Liberation Sans', sans-serif" font-size="20.7" fill="#000" stroke="#000" stroke-width="0.6" stroke-linejoin="round">29</text>
<line x1="181.2" y1="534" x2="136.3" y2="539.9" stroke="#000" stroke-width="1.15" />
<text x="179.9" y="544.2" font-family="'Liberation Sans', sans-serif" font-size="20.7" fill="#000" stroke="#000" stroke-width="0.6" stroke-linejoin="round">30</text>
<line x1="204.9" y1="580.5" x2="178" y2="603.9" stroke="#000" stroke-width="1.15" />
<text x="205.4" y="585.6" font-family="'Liberation Sans', sans-serif" font-size="20.7" fill="#000" stroke="#000" stroke-width="0.6" stroke-linejoin="round">31</text>
<line x1="101.7" y1="641.6" x2="114.2" y2="672" stroke="#000" stroke-width="1.15" />
<text x="86" y="639.4" font-family="'Liberation Sans', sans-serif" font-size="20.7" fill="#000" stroke="#000" stroke-width="0.6" stroke-linejoin="round">32</text>
<line x1="123.2" y1="745.8" x2="161.8" y2="775.4" stroke="#000" stroke-width="1.15" />
<text x="163" y="784.2" font-family="'Liberation Sans', sans-serif" font-size="20.7" fill="#000" stroke="#000" stroke-width="0.6" stroke-linejoin="round">33</text>
<line x1="261.1" y1="585.2" x2="253.4" y2="628.3" stroke="#000" stroke-width="1.15" />
<line x1="261.1" y1="585.2" x2="291.7" y2="619.7" stroke="#000" stroke-width="1.15" />
<text x="251.6" y="582.7" font-family="'Liberation Sans', sans-serif" font-size="20.7" fill="#000" stroke="#000" stroke-width="0.6" stroke-linejoin="round">27</text>
<line x1="327.7" y1="578.8" x2="330" y2="619.7" stroke="#000" stroke-width="1.15" />
<text x="319.5" y="574" font-family="'Liberation Sans', sans-serif" font-size="20.7" fill="#000" stroke="#000" stroke-width="0.6" stroke-linejoin="round">26</text>
<line x1="435.2" y1="631" x2="503.4" y2="634.6" stroke="#000" stroke-width="1.15" />
<text x="503.2" y="643" font-family="'Liberation Sans', sans-serif" font-size="20.7" fill="#000" stroke="#000" stroke-width="0.6" stroke-linejoin="round">25</text>
<line x1="376.3" y1="721" x2="335.9" y2="733.6" stroke="#000" stroke-width="1.15" />
<text x="377.7" y="728.4" font-family="'Liberation Sans', sans-serif" font-size="20.7" fill="#000" stroke="#000" stroke-width="0.6" stroke-linejoin="round">34</text>
</svg>
</body></html>
